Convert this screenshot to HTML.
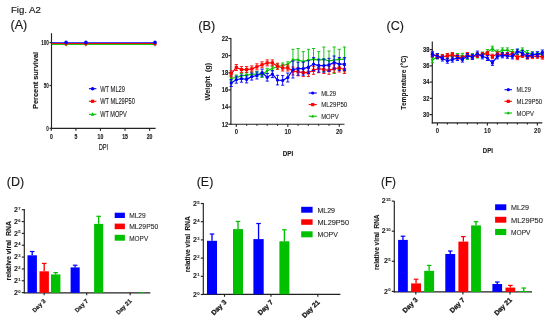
<!DOCTYPE html>
<html><head><meta charset="utf-8"><style>
html,body{margin:0;padding:0;background:#fff;width:550px;height:322px;overflow:hidden}
svg{display:block;filter:blur(0.25px)}
text{font-family:"Liberation Sans",sans-serif}
</style></head><body>
<svg width="550" height="322" viewBox="0 0 550 322">
<rect width="550" height="322" fill="#fff"/>
<text x="10.9" y="13.2" font-size="9.7" text-anchor="start" font-weight="normal" fill="#1a1a1a" font-family="Liberation Sans" stroke="#1a1a1a" stroke-width="0.18" textLength="30.0" lengthAdjust="spacingAndGlyphs" >Fig. A2</text>
<text x="10.5" y="28.8" font-size="12.4" text-anchor="start" font-weight="normal" fill="#1a1a1a" font-family="Liberation Sans" stroke="#1a1a1a" stroke-width="0.15" textLength="16.8" lengthAdjust="spacingAndGlyphs" >(A)</text>
<text x="198.2" y="30.0" font-size="12.3" text-anchor="start" font-weight="normal" fill="#1a1a1a" font-family="Liberation Sans" stroke="#1a1a1a" stroke-width="0.15" textLength="17.0" lengthAdjust="spacingAndGlyphs" >(B)</text>
<text x="386.6" y="29.8" font-size="12.3" text-anchor="start" font-weight="normal" fill="#1a1a1a" font-family="Liberation Sans" stroke="#1a1a1a" stroke-width="0.15" textLength="17.4" lengthAdjust="spacingAndGlyphs" >(C)</text>
<text x="6.8" y="185.6" font-size="12.3" text-anchor="start" font-weight="normal" fill="#1a1a1a" font-family="Liberation Sans" stroke="#1a1a1a" stroke-width="0.15" textLength="17.3" lengthAdjust="spacingAndGlyphs" >(D)</text>
<text x="196.7" y="185.6" font-size="12.3" text-anchor="start" font-weight="normal" fill="#1a1a1a" font-family="Liberation Sans" stroke="#1a1a1a" stroke-width="0.15" textLength="16.7" lengthAdjust="spacingAndGlyphs" >(E)</text>
<text x="381.0" y="186.3" font-size="12.3" text-anchor="start" font-weight="normal" fill="#1a1a1a" font-family="Liberation Sans" stroke="#1a1a1a" stroke-width="0.15" textLength="15.0" lengthAdjust="spacingAndGlyphs" >(F)</text>
<line x1="51.5" y1="33.2" x2="51.5" y2="128.8" stroke="#222222" stroke-width="1.15"/>
<line x1="51.0" y1="128.3" x2="155.6" y2="128.3" stroke="#222222" stroke-width="1.15"/>
<line x1="49.5" y1="128.3" x2="51.5" y2="128.3" stroke="#222222" stroke-width="1.15"/>
<text x="48.9" y="130.60000000000002" font-size="7.4" text-anchor="end" font-weight="bold" fill="#1a1a1a" font-family="Liberation Sans" stroke="#1a1a1a" stroke-width="0.12" textLength="2.55" lengthAdjust="spacingAndGlyphs" >0</text>
<line x1="49.5" y1="85.5" x2="51.5" y2="85.5" stroke="#222222" stroke-width="1.15"/>
<text x="48.9" y="87.8" font-size="7.4" text-anchor="end" font-weight="bold" fill="#1a1a1a" font-family="Liberation Sans" stroke="#1a1a1a" stroke-width="0.12" textLength="5.1" lengthAdjust="spacingAndGlyphs" >50</text>
<line x1="49.5" y1="42.6" x2="51.5" y2="42.6" stroke="#222222" stroke-width="1.15"/>
<text x="48.9" y="44.9" font-size="7.4" text-anchor="end" font-weight="bold" fill="#1a1a1a" font-family="Liberation Sans" stroke="#1a1a1a" stroke-width="0.12" textLength="7.6499999999999995" lengthAdjust="spacingAndGlyphs" >100</text>
<line x1="51.3" y1="128.3" x2="51.3" y2="130.8" stroke="#222222" stroke-width="1.15"/>
<text x="51.3" y="138.8" font-size="7.0" text-anchor="middle" font-weight="bold" fill="#1a1a1a" font-family="Liberation Sans" stroke="#1a1a1a" stroke-width="0.15" textLength="2.85" lengthAdjust="spacingAndGlyphs" >0</text>
<line x1="75.875" y1="128.3" x2="75.875" y2="130.8" stroke="#222222" stroke-width="1.15"/>
<text x="75.875" y="138.8" font-size="7.0" text-anchor="middle" font-weight="bold" fill="#1a1a1a" font-family="Liberation Sans" stroke="#1a1a1a" stroke-width="0.15" textLength="2.85" lengthAdjust="spacingAndGlyphs" >5</text>
<line x1="100.44999999999999" y1="128.3" x2="100.44999999999999" y2="130.8" stroke="#222222" stroke-width="1.15"/>
<text x="100.44999999999999" y="138.8" font-size="7.0" text-anchor="middle" font-weight="bold" fill="#1a1a1a" font-family="Liberation Sans" stroke="#1a1a1a" stroke-width="0.15" textLength="5.7" lengthAdjust="spacingAndGlyphs" >10</text>
<line x1="125.02499999999999" y1="128.3" x2="125.02499999999999" y2="130.8" stroke="#222222" stroke-width="1.15"/>
<text x="125.02499999999999" y="138.8" font-size="7.0" text-anchor="middle" font-weight="bold" fill="#1a1a1a" font-family="Liberation Sans" stroke="#1a1a1a" stroke-width="0.15" textLength="5.7" lengthAdjust="spacingAndGlyphs" >15</text>
<line x1="149.6" y1="128.3" x2="149.6" y2="130.8" stroke="#222222" stroke-width="1.15"/>
<text x="149.6" y="138.8" font-size="7.0" text-anchor="middle" font-weight="bold" fill="#1a1a1a" font-family="Liberation Sans" stroke="#1a1a1a" stroke-width="0.15" textLength="5.7" lengthAdjust="spacingAndGlyphs" >20</text>
<text x="103.4" y="149.9" font-size="8.6" text-anchor="middle" font-weight="normal" fill="#1a1a1a" font-family="Liberation Sans" stroke="#1a1a1a" stroke-width="0.15" textLength="9.5" lengthAdjust="spacingAndGlyphs" >DPI</text>
<text x="37.6" y="80.4" font-size="7.4" text-anchor="middle" font-weight="bold" fill="#1a1a1a" font-family="Liberation Sans" stroke="#1a1a1a" stroke-width="0.15" textLength="57" lengthAdjust="spacingAndGlyphs" transform="rotate(-90 37.6 80.4)" >Percent survival</text>
<line x1="51.5" y1="42.7" x2="155.6" y2="42.7" stroke="#0000ff" stroke-width="1.1"/>
<line x1="51.5" y1="43.5" x2="155.6" y2="43.5" stroke="#ff0000" stroke-width="1.1"/>
<line x1="51.5" y1="44.4" x2="155.6" y2="44.4" stroke="#00c000" stroke-width="1.0"/>
<polygon points="64.5,43.8 67.7,43.8 66.1,46.7" fill="#00c000"/>
<rect x="64.6" y="42.3" width="3.0" height="3.0" fill="#ff0000"/>
<circle cx="66.1" cy="42.4" r="1.8" fill="#0000ff"/>
<polygon points="84.3,43.8 87.5,43.8 85.9,46.7" fill="#00c000"/>
<rect x="84.4" y="42.3" width="3.0" height="3.0" fill="#ff0000"/>
<circle cx="85.9" cy="42.4" r="1.8" fill="#0000ff"/>
<polygon points="153.4,43.8 156.6,43.8 155.0,46.7" fill="#00c000"/>
<rect x="153.5" y="42.3" width="3.0" height="3.0" fill="#ff0000"/>
<circle cx="155.0" cy="42.4" r="1.8" fill="#0000ff"/>
<line x1="88.9" y1="88.7" x2="96.4" y2="88.7" stroke="#0000ff" stroke-width="1.1"/>
<circle cx="92.6" cy="88.7" r="1.8" fill="#0000ff"/>
<text x="100.2" y="91.7" font-size="9.2" text-anchor="start" font-weight="normal" fill="#1a1a1a" font-family="Liberation Sans" stroke="#1a1a1a" stroke-width="0.1" textLength="24.8" lengthAdjust="spacingAndGlyphs" >WT ML29</text>
<line x1="88.9" y1="101.3" x2="96.4" y2="101.3" stroke="#ff0000" stroke-width="1.1"/>
<rect x="91.0" y="99.7" width="3.2" height="3.2" fill="#ff0000"/>
<text x="100.2" y="104.3" font-size="9.2" text-anchor="start" font-weight="normal" fill="#1a1a1a" font-family="Liberation Sans" stroke="#1a1a1a" stroke-width="0.1" textLength="34.6" lengthAdjust="spacingAndGlyphs" >WT ML29P50</text>
<line x1="88.9" y1="114.3" x2="96.4" y2="114.3" stroke="#00c000" stroke-width="1.1"/>
<polygon points="90.8,115.7 94.4,115.7 92.6,112.3" fill="#00c000"/>
<text x="100.2" y="117.3" font-size="9.2" text-anchor="start" font-weight="normal" fill="#1a1a1a" font-family="Liberation Sans" stroke="#1a1a1a" stroke-width="0.1" textLength="26.6" lengthAdjust="spacingAndGlyphs" >WT MOPV</text>
<line x1="230.9" y1="38.0" x2="230.9" y2="124.7" stroke="#222222" stroke-width="1.15"/>
<line x1="230.4" y1="124.2" x2="344.5" y2="124.2" stroke="#222222" stroke-width="1.15"/>
<line x1="228.4" y1="124.2" x2="230.9" y2="124.2" stroke="#222222" stroke-width="1.15"/>
<text x="228.1" y="126.5" font-size="6.6" text-anchor="end" font-weight="bold" fill="#1a1a1a" font-family="Liberation Sans" stroke="#1a1a1a" stroke-width="0.12" textLength="6.4" lengthAdjust="spacingAndGlyphs" >12</text>
<line x1="228.4" y1="107.06" x2="230.9" y2="107.06" stroke="#222222" stroke-width="1.15"/>
<text x="228.1" y="109.36" font-size="6.6" text-anchor="end" font-weight="bold" fill="#1a1a1a" font-family="Liberation Sans" stroke="#1a1a1a" stroke-width="0.12" textLength="6.4" lengthAdjust="spacingAndGlyphs" >14</text>
<line x1="228.4" y1="89.92" x2="230.9" y2="89.92" stroke="#222222" stroke-width="1.15"/>
<text x="228.1" y="92.22" font-size="6.6" text-anchor="end" font-weight="bold" fill="#1a1a1a" font-family="Liberation Sans" stroke="#1a1a1a" stroke-width="0.12" textLength="6.4" lengthAdjust="spacingAndGlyphs" >16</text>
<line x1="228.4" y1="72.78" x2="230.9" y2="72.78" stroke="#222222" stroke-width="1.15"/>
<text x="228.1" y="75.08" font-size="6.6" text-anchor="end" font-weight="bold" fill="#1a1a1a" font-family="Liberation Sans" stroke="#1a1a1a" stroke-width="0.12" textLength="6.4" lengthAdjust="spacingAndGlyphs" >18</text>
<line x1="228.4" y1="55.64" x2="230.9" y2="55.64" stroke="#222222" stroke-width="1.15"/>
<text x="228.1" y="57.94" font-size="6.6" text-anchor="end" font-weight="bold" fill="#1a1a1a" font-family="Liberation Sans" stroke="#1a1a1a" stroke-width="0.12" textLength="6.4" lengthAdjust="spacingAndGlyphs" >20</text>
<line x1="228.4" y1="38.5" x2="230.9" y2="38.5" stroke="#222222" stroke-width="1.15"/>
<text x="228.1" y="40.8" font-size="6.6" text-anchor="end" font-weight="bold" fill="#1a1a1a" font-family="Liberation Sans" stroke="#1a1a1a" stroke-width="0.12" textLength="6.4" lengthAdjust="spacingAndGlyphs" >22</text>
<line x1="236.3" y1="124.2" x2="236.3" y2="126.7" stroke="#222222" stroke-width="1.15"/>
<line x1="246.60000000000002" y1="124.2" x2="246.60000000000002" y2="125.8" stroke="#222222" stroke-width="1.15"/>
<line x1="256.90000000000003" y1="124.2" x2="256.90000000000003" y2="125.8" stroke="#222222" stroke-width="1.15"/>
<line x1="267.2" y1="124.2" x2="267.2" y2="125.8" stroke="#222222" stroke-width="1.15"/>
<line x1="277.5" y1="124.2" x2="277.5" y2="125.8" stroke="#222222" stroke-width="1.15"/>
<line x1="287.8" y1="124.2" x2="287.8" y2="126.7" stroke="#222222" stroke-width="1.15"/>
<line x1="298.1" y1="124.2" x2="298.1" y2="125.8" stroke="#222222" stroke-width="1.15"/>
<line x1="308.40000000000003" y1="124.2" x2="308.40000000000003" y2="125.8" stroke="#222222" stroke-width="1.15"/>
<line x1="318.70000000000005" y1="124.2" x2="318.70000000000005" y2="125.8" stroke="#222222" stroke-width="1.15"/>
<line x1="329.0" y1="124.2" x2="329.0" y2="125.8" stroke="#222222" stroke-width="1.15"/>
<line x1="339.3" y1="124.2" x2="339.3" y2="126.7" stroke="#222222" stroke-width="1.15"/>
<text x="236.3" y="134.1" font-size="6.8" text-anchor="middle" font-weight="bold" fill="#1a1a1a" font-family="Liberation Sans" stroke="#1a1a1a" stroke-width="0.05" textLength="3.3" lengthAdjust="spacingAndGlyphs" >0</text>
<text x="287.8" y="134.1" font-size="6.8" text-anchor="middle" font-weight="bold" fill="#1a1a1a" font-family="Liberation Sans" stroke="#1a1a1a" stroke-width="0.05" textLength="6.6" lengthAdjust="spacingAndGlyphs" >10</text>
<text x="339.3" y="134.1" font-size="6.8" text-anchor="middle" font-weight="bold" fill="#1a1a1a" font-family="Liberation Sans" stroke="#1a1a1a" stroke-width="0.05" textLength="6.6" lengthAdjust="spacingAndGlyphs" >20</text>
<text x="288.0" y="156.3" font-size="7.8" text-anchor="middle" font-weight="bold" fill="#1a1a1a" font-family="Liberation Sans" stroke="#1a1a1a" stroke-width="0.12" textLength="10.5" lengthAdjust="spacingAndGlyphs" >DPI</text>
<text x="209.6" y="81.6" font-size="7.2" text-anchor="middle" font-weight="bold" fill="#1a1a1a" font-family="Liberation Sans" stroke="#1a1a1a" stroke-width="0.08" textLength="37.8" lengthAdjust="spacingAndGlyphs" transform="rotate(-90 209.6 81.6)" >Weight&#160; (g)</text>
<line x1="231.15" y1="75.9" x2="231.15" y2="80.9" stroke="#00c000" stroke-width="0.9"/>
<line x1="229.55" y1="75.9" x2="232.75" y2="75.9" stroke="#00c000" stroke-width="0.9"/>
<line x1="229.55" y1="80.9" x2="232.75" y2="80.9" stroke="#00c000" stroke-width="0.9"/>
<line x1="236.3" y1="75.0" x2="236.3" y2="80.0" stroke="#00c000" stroke-width="0.9"/>
<line x1="234.70000000000002" y1="75.0" x2="237.9" y2="75.0" stroke="#00c000" stroke-width="0.9"/>
<line x1="234.70000000000002" y1="80.0" x2="237.9" y2="80.0" stroke="#00c000" stroke-width="0.9"/>
<line x1="241.45000000000002" y1="73.4" x2="241.45000000000002" y2="78.4" stroke="#00c000" stroke-width="0.9"/>
<line x1="239.85000000000002" y1="73.4" x2="243.05" y2="73.4" stroke="#00c000" stroke-width="0.9"/>
<line x1="239.85000000000002" y1="78.4" x2="243.05" y2="78.4" stroke="#00c000" stroke-width="0.9"/>
<line x1="246.60000000000002" y1="72.7" x2="246.60000000000002" y2="77.7" stroke="#00c000" stroke-width="0.9"/>
<line x1="245.00000000000003" y1="72.7" x2="248.20000000000002" y2="72.7" stroke="#00c000" stroke-width="0.9"/>
<line x1="245.00000000000003" y1="77.7" x2="248.20000000000002" y2="77.7" stroke="#00c000" stroke-width="0.9"/>
<line x1="251.75" y1="72.0" x2="251.75" y2="77.0" stroke="#00c000" stroke-width="0.9"/>
<line x1="250.15" y1="72.0" x2="253.35" y2="72.0" stroke="#00c000" stroke-width="0.9"/>
<line x1="250.15" y1="77.0" x2="253.35" y2="77.0" stroke="#00c000" stroke-width="0.9"/>
<line x1="256.90000000000003" y1="71.3" x2="256.90000000000003" y2="76.3" stroke="#00c000" stroke-width="0.9"/>
<line x1="255.30000000000004" y1="71.3" x2="258.50000000000006" y2="71.3" stroke="#00c000" stroke-width="0.9"/>
<line x1="255.30000000000004" y1="76.3" x2="258.50000000000006" y2="76.3" stroke="#00c000" stroke-width="0.9"/>
<line x1="262.05" y1="72.5" x2="262.05" y2="77.5" stroke="#00c000" stroke-width="0.9"/>
<line x1="260.45" y1="72.5" x2="263.65000000000003" y2="72.5" stroke="#00c000" stroke-width="0.9"/>
<line x1="260.45" y1="77.5" x2="263.65000000000003" y2="77.5" stroke="#00c000" stroke-width="0.9"/>
<line x1="267.2" y1="68.3" x2="267.2" y2="73.3" stroke="#00c000" stroke-width="0.9"/>
<line x1="265.59999999999997" y1="68.3" x2="268.8" y2="68.3" stroke="#00c000" stroke-width="0.9"/>
<line x1="265.59999999999997" y1="73.3" x2="268.8" y2="73.3" stroke="#00c000" stroke-width="0.9"/>
<line x1="272.35" y1="66.0" x2="272.35" y2="71.0" stroke="#00c000" stroke-width="0.9"/>
<line x1="270.75" y1="66.0" x2="273.95000000000005" y2="66.0" stroke="#00c000" stroke-width="0.9"/>
<line x1="270.75" y1="71.0" x2="273.95000000000005" y2="71.0" stroke="#00c000" stroke-width="0.9"/>
<line x1="277.5" y1="64.0" x2="277.5" y2="69.0" stroke="#00c000" stroke-width="0.9"/>
<line x1="275.9" y1="64.0" x2="279.1" y2="64.0" stroke="#00c000" stroke-width="0.9"/>
<line x1="275.9" y1="69.0" x2="279.1" y2="69.0" stroke="#00c000" stroke-width="0.9"/>
<line x1="282.65000000000003" y1="63.0" x2="282.65000000000003" y2="68.0" stroke="#00c000" stroke-width="0.9"/>
<line x1="281.05" y1="63.0" x2="284.25000000000006" y2="63.0" stroke="#00c000" stroke-width="0.9"/>
<line x1="281.05" y1="68.0" x2="284.25000000000006" y2="68.0" stroke="#00c000" stroke-width="0.9"/>
<line x1="287.8" y1="61.8" x2="287.8" y2="66.8" stroke="#00c000" stroke-width="0.9"/>
<line x1="286.2" y1="61.8" x2="289.40000000000003" y2="61.8" stroke="#00c000" stroke-width="0.9"/>
<line x1="286.2" y1="66.8" x2="289.40000000000003" y2="66.8" stroke="#00c000" stroke-width="0.9"/>
<line x1="292.95000000000005" y1="49.3" x2="292.95000000000005" y2="70.5" stroke="#00c000" stroke-width="0.9"/>
<line x1="291.35" y1="49.3" x2="294.55000000000007" y2="49.3" stroke="#00c000" stroke-width="0.9"/>
<line x1="291.35" y1="70.5" x2="294.55000000000007" y2="70.5" stroke="#00c000" stroke-width="0.9"/>
<line x1="298.1" y1="48.5" x2="298.1" y2="71.3" stroke="#00c000" stroke-width="0.9"/>
<line x1="296.5" y1="48.5" x2="299.70000000000005" y2="48.5" stroke="#00c000" stroke-width="0.9"/>
<line x1="296.5" y1="71.3" x2="299.70000000000005" y2="71.3" stroke="#00c000" stroke-width="0.9"/>
<line x1="303.25" y1="51.6" x2="303.25" y2="71.80000000000001" stroke="#00c000" stroke-width="0.9"/>
<line x1="301.65" y1="51.6" x2="304.85" y2="51.6" stroke="#00c000" stroke-width="0.9"/>
<line x1="301.65" y1="71.80000000000001" x2="304.85" y2="71.80000000000001" stroke="#00c000" stroke-width="0.9"/>
<line x1="308.40000000000003" y1="49.3" x2="308.40000000000003" y2="71.10000000000001" stroke="#00c000" stroke-width="0.9"/>
<line x1="306.8" y1="49.3" x2="310.00000000000006" y2="49.3" stroke="#00c000" stroke-width="0.9"/>
<line x1="306.8" y1="71.10000000000001" x2="310.00000000000006" y2="71.10000000000001" stroke="#00c000" stroke-width="0.9"/>
<line x1="313.55" y1="48.5" x2="313.55" y2="70.3" stroke="#00c000" stroke-width="0.9"/>
<line x1="311.95" y1="48.5" x2="315.15000000000003" y2="48.5" stroke="#00c000" stroke-width="0.9"/>
<line x1="311.95" y1="70.3" x2="315.15000000000003" y2="70.3" stroke="#00c000" stroke-width="0.9"/>
<line x1="318.70000000000005" y1="51.6" x2="318.70000000000005" y2="68.80000000000001" stroke="#00c000" stroke-width="0.9"/>
<line x1="317.1" y1="51.6" x2="320.30000000000007" y2="51.6" stroke="#00c000" stroke-width="0.9"/>
<line x1="317.1" y1="68.80000000000001" x2="320.30000000000007" y2="68.80000000000001" stroke="#00c000" stroke-width="0.9"/>
<line x1="323.85" y1="47.0" x2="323.85" y2="71.8" stroke="#00c000" stroke-width="0.9"/>
<line x1="322.25" y1="47.0" x2="325.45000000000005" y2="47.0" stroke="#00c000" stroke-width="0.9"/>
<line x1="322.25" y1="71.8" x2="325.45000000000005" y2="71.8" stroke="#00c000" stroke-width="0.9"/>
<line x1="329.0" y1="51.0" x2="329.0" y2="71.0" stroke="#00c000" stroke-width="0.9"/>
<line x1="327.4" y1="51.0" x2="330.6" y2="51.0" stroke="#00c000" stroke-width="0.9"/>
<line x1="327.4" y1="71.0" x2="330.6" y2="71.0" stroke="#00c000" stroke-width="0.9"/>
<line x1="334.15000000000003" y1="47.0" x2="334.15000000000003" y2="73.4" stroke="#00c000" stroke-width="0.9"/>
<line x1="332.55" y1="47.0" x2="335.75000000000006" y2="47.0" stroke="#00c000" stroke-width="0.9"/>
<line x1="332.55" y1="73.4" x2="335.75000000000006" y2="73.4" stroke="#00c000" stroke-width="0.9"/>
<line x1="339.3" y1="49.3" x2="339.3" y2="69.5" stroke="#00c000" stroke-width="0.9"/>
<line x1="337.7" y1="49.3" x2="340.90000000000003" y2="49.3" stroke="#00c000" stroke-width="0.9"/>
<line x1="337.7" y1="69.5" x2="340.90000000000003" y2="69.5" stroke="#00c000" stroke-width="0.9"/>
<line x1="344.45000000000005" y1="47.0" x2="344.45000000000005" y2="71.8" stroke="#00c000" stroke-width="0.9"/>
<line x1="342.85" y1="47.0" x2="346.05000000000007" y2="47.0" stroke="#00c000" stroke-width="0.9"/>
<line x1="342.85" y1="71.8" x2="346.05000000000007" y2="71.8" stroke="#00c000" stroke-width="0.9"/>
<polyline points="231.2,78.4 236.3,77.5 241.5,75.9 246.6,75.2 251.8,74.5 256.9,73.8 262.1,75.0 267.2,70.8 272.4,68.5 277.5,66.5 282.7,65.5 287.8,64.3 293.0,59.9 298.1,59.9 303.2,61.7 308.4,60.2 313.6,59.4 318.7,60.2 323.9,59.4 329.0,61.0 334.2,60.2 339.3,59.4 344.5,59.4" fill="none" stroke="#00c000" stroke-width="1.2"/>
<polygon points="229.6,77.3 232.8,77.3 231.2,80.2" fill="#00c000"/>
<polygon points="234.7,76.4 237.9,76.4 236.3,79.3" fill="#00c000"/>
<polygon points="239.9,74.8 243.1,74.8 241.5,77.7" fill="#00c000"/>
<polygon points="245.0,74.1 248.2,74.1 246.6,77.0" fill="#00c000"/>
<polygon points="250.2,73.4 253.3,73.4 251.8,76.3" fill="#00c000"/>
<polygon points="255.3,72.7 258.5,72.7 256.9,75.6" fill="#00c000"/>
<polygon points="260.4,73.9 263.7,73.9 262.1,76.8" fill="#00c000"/>
<polygon points="265.6,69.7 268.8,69.7 267.2,72.6" fill="#00c000"/>
<polygon points="270.8,67.4 274.0,67.4 272.4,70.3" fill="#00c000"/>
<polygon points="275.9,65.4 279.1,65.4 277.5,68.3" fill="#00c000"/>
<polygon points="281.1,64.4 284.3,64.4 282.7,67.3" fill="#00c000"/>
<polygon points="286.2,63.2 289.4,63.2 287.8,66.1" fill="#00c000"/>
<polygon points="291.4,58.8 294.6,58.8 293.0,61.7" fill="#00c000"/>
<polygon points="296.5,58.8 299.7,58.8 298.1,61.7" fill="#00c000"/>
<polygon points="301.6,60.6 304.9,60.6 303.2,63.5" fill="#00c000"/>
<polygon points="306.8,59.1 310.0,59.1 308.4,62.0" fill="#00c000"/>
<polygon points="311.9,58.3 315.2,58.3 313.6,61.2" fill="#00c000"/>
<polygon points="317.1,59.1 320.3,59.1 318.7,62.0" fill="#00c000"/>
<polygon points="322.2,58.3 325.5,58.3 323.9,61.2" fill="#00c000"/>
<polygon points="327.4,59.9 330.6,59.9 329.0,62.8" fill="#00c000"/>
<polygon points="332.6,59.1 335.8,59.1 334.2,62.0" fill="#00c000"/>
<polygon points="337.7,58.3 340.9,58.3 339.3,61.2" fill="#00c000"/>
<polygon points="342.9,58.3 346.1,58.3 344.5,61.2" fill="#00c000"/>
<line x1="231.15" y1="70.8" x2="231.15" y2="76.8" stroke="#ff0000" stroke-width="0.9"/>
<line x1="229.55" y1="70.8" x2="232.75" y2="70.8" stroke="#ff0000" stroke-width="0.9"/>
<line x1="229.55" y1="76.8" x2="232.75" y2="76.8" stroke="#ff0000" stroke-width="0.9"/>
<line x1="236.3" y1="64.5" x2="236.3" y2="70.5" stroke="#ff0000" stroke-width="0.9"/>
<line x1="234.70000000000002" y1="64.5" x2="237.9" y2="64.5" stroke="#ff0000" stroke-width="0.9"/>
<line x1="234.70000000000002" y1="70.5" x2="237.9" y2="70.5" stroke="#ff0000" stroke-width="0.9"/>
<line x1="241.45000000000002" y1="66.6" x2="241.45000000000002" y2="72.6" stroke="#ff0000" stroke-width="0.9"/>
<line x1="239.85000000000002" y1="66.6" x2="243.05" y2="66.6" stroke="#ff0000" stroke-width="0.9"/>
<line x1="239.85000000000002" y1="72.6" x2="243.05" y2="72.6" stroke="#ff0000" stroke-width="0.9"/>
<line x1="246.60000000000002" y1="66.6" x2="246.60000000000002" y2="72.6" stroke="#ff0000" stroke-width="0.9"/>
<line x1="245.00000000000003" y1="66.6" x2="248.20000000000002" y2="66.6" stroke="#ff0000" stroke-width="0.9"/>
<line x1="245.00000000000003" y1="72.6" x2="248.20000000000002" y2="72.6" stroke="#ff0000" stroke-width="0.9"/>
<line x1="251.75" y1="65.9" x2="251.75" y2="71.9" stroke="#ff0000" stroke-width="0.9"/>
<line x1="250.15" y1="65.9" x2="253.35" y2="65.9" stroke="#ff0000" stroke-width="0.9"/>
<line x1="250.15" y1="71.9" x2="253.35" y2="71.9" stroke="#ff0000" stroke-width="0.9"/>
<line x1="256.90000000000003" y1="63.8" x2="256.90000000000003" y2="69.8" stroke="#ff0000" stroke-width="0.9"/>
<line x1="255.30000000000004" y1="63.8" x2="258.50000000000006" y2="63.8" stroke="#ff0000" stroke-width="0.9"/>
<line x1="255.30000000000004" y1="69.8" x2="258.50000000000006" y2="69.8" stroke="#ff0000" stroke-width="0.9"/>
<line x1="262.05" y1="61.8" x2="262.05" y2="67.8" stroke="#ff0000" stroke-width="0.9"/>
<line x1="260.45" y1="61.8" x2="263.65000000000003" y2="61.8" stroke="#ff0000" stroke-width="0.9"/>
<line x1="260.45" y1="67.8" x2="263.65000000000003" y2="67.8" stroke="#ff0000" stroke-width="0.9"/>
<line x1="267.2" y1="59.9" x2="267.2" y2="65.9" stroke="#ff0000" stroke-width="0.9"/>
<line x1="265.59999999999997" y1="59.9" x2="268.8" y2="59.9" stroke="#ff0000" stroke-width="0.9"/>
<line x1="265.59999999999997" y1="65.9" x2="268.8" y2="65.9" stroke="#ff0000" stroke-width="0.9"/>
<line x1="272.35" y1="59.9" x2="272.35" y2="65.9" stroke="#ff0000" stroke-width="0.9"/>
<line x1="270.75" y1="59.9" x2="273.95000000000005" y2="59.9" stroke="#ff0000" stroke-width="0.9"/>
<line x1="270.75" y1="65.9" x2="273.95000000000005" y2="65.9" stroke="#ff0000" stroke-width="0.9"/>
<line x1="277.5" y1="63.2" x2="277.5" y2="69.2" stroke="#ff0000" stroke-width="0.9"/>
<line x1="275.9" y1="63.2" x2="279.1" y2="63.2" stroke="#ff0000" stroke-width="0.9"/>
<line x1="275.9" y1="69.2" x2="279.1" y2="69.2" stroke="#ff0000" stroke-width="0.9"/>
<line x1="282.65000000000003" y1="65" x2="282.65000000000003" y2="71" stroke="#ff0000" stroke-width="0.9"/>
<line x1="281.05" y1="65" x2="284.25000000000006" y2="65" stroke="#ff0000" stroke-width="0.9"/>
<line x1="281.05" y1="71" x2="284.25000000000006" y2="71" stroke="#ff0000" stroke-width="0.9"/>
<line x1="287.8" y1="65" x2="287.8" y2="71" stroke="#ff0000" stroke-width="0.9"/>
<line x1="286.2" y1="65" x2="289.40000000000003" y2="65" stroke="#ff0000" stroke-width="0.9"/>
<line x1="286.2" y1="71" x2="289.40000000000003" y2="71" stroke="#ff0000" stroke-width="0.9"/>
<line x1="292.95000000000005" y1="67" x2="292.95000000000005" y2="75" stroke="#ff0000" stroke-width="0.9"/>
<line x1="291.35" y1="67" x2="294.55000000000007" y2="67" stroke="#ff0000" stroke-width="0.9"/>
<line x1="291.35" y1="75" x2="294.55000000000007" y2="75" stroke="#ff0000" stroke-width="0.9"/>
<line x1="298.1" y1="67.8" x2="298.1" y2="75.8" stroke="#ff0000" stroke-width="0.9"/>
<line x1="296.5" y1="67.8" x2="299.70000000000005" y2="67.8" stroke="#ff0000" stroke-width="0.9"/>
<line x1="296.5" y1="75.8" x2="299.70000000000005" y2="75.8" stroke="#ff0000" stroke-width="0.9"/>
<line x1="303.25" y1="68.6" x2="303.25" y2="76.6" stroke="#ff0000" stroke-width="0.9"/>
<line x1="301.65" y1="68.6" x2="304.85" y2="68.6" stroke="#ff0000" stroke-width="0.9"/>
<line x1="301.65" y1="76.6" x2="304.85" y2="76.6" stroke="#ff0000" stroke-width="0.9"/>
<line x1="308.40000000000003" y1="68.6" x2="308.40000000000003" y2="76.6" stroke="#ff0000" stroke-width="0.9"/>
<line x1="306.8" y1="68.6" x2="310.00000000000006" y2="68.6" stroke="#ff0000" stroke-width="0.9"/>
<line x1="306.8" y1="76.6" x2="310.00000000000006" y2="76.6" stroke="#ff0000" stroke-width="0.9"/>
<line x1="313.55" y1="66.3" x2="313.55" y2="74.3" stroke="#ff0000" stroke-width="0.9"/>
<line x1="311.95" y1="66.3" x2="315.15000000000003" y2="66.3" stroke="#ff0000" stroke-width="0.9"/>
<line x1="311.95" y1="74.3" x2="315.15000000000003" y2="74.3" stroke="#ff0000" stroke-width="0.9"/>
<line x1="318.70000000000005" y1="64.7" x2="318.70000000000005" y2="72.7" stroke="#ff0000" stroke-width="0.9"/>
<line x1="317.1" y1="64.7" x2="320.30000000000007" y2="64.7" stroke="#ff0000" stroke-width="0.9"/>
<line x1="317.1" y1="72.7" x2="320.30000000000007" y2="72.7" stroke="#ff0000" stroke-width="0.9"/>
<line x1="323.85" y1="65.5" x2="323.85" y2="73.5" stroke="#ff0000" stroke-width="0.9"/>
<line x1="322.25" y1="65.5" x2="325.45000000000005" y2="65.5" stroke="#ff0000" stroke-width="0.9"/>
<line x1="322.25" y1="73.5" x2="325.45000000000005" y2="73.5" stroke="#ff0000" stroke-width="0.9"/>
<line x1="329.0" y1="66.3" x2="329.0" y2="74.3" stroke="#ff0000" stroke-width="0.9"/>
<line x1="327.4" y1="66.3" x2="330.6" y2="66.3" stroke="#ff0000" stroke-width="0.9"/>
<line x1="327.4" y1="74.3" x2="330.6" y2="74.3" stroke="#ff0000" stroke-width="0.9"/>
<line x1="334.15000000000003" y1="64.7" x2="334.15000000000003" y2="72.7" stroke="#ff0000" stroke-width="0.9"/>
<line x1="332.55" y1="64.7" x2="335.75000000000006" y2="64.7" stroke="#ff0000" stroke-width="0.9"/>
<line x1="332.55" y1="72.7" x2="335.75000000000006" y2="72.7" stroke="#ff0000" stroke-width="0.9"/>
<line x1="339.3" y1="64" x2="339.3" y2="72" stroke="#ff0000" stroke-width="0.9"/>
<line x1="337.7" y1="64" x2="340.90000000000003" y2="64" stroke="#ff0000" stroke-width="0.9"/>
<line x1="337.7" y1="72" x2="340.90000000000003" y2="72" stroke="#ff0000" stroke-width="0.9"/>
<line x1="344.45000000000005" y1="65.5" x2="344.45000000000005" y2="73.5" stroke="#ff0000" stroke-width="0.9"/>
<line x1="342.85" y1="65.5" x2="346.05000000000007" y2="65.5" stroke="#ff0000" stroke-width="0.9"/>
<line x1="342.85" y1="73.5" x2="346.05000000000007" y2="73.5" stroke="#ff0000" stroke-width="0.9"/>
<polyline points="231.2,73.8 236.3,67.5 241.5,69.6 246.6,69.6 251.8,68.9 256.9,66.8 262.1,64.8 267.2,62.9 272.4,62.9 277.5,66.2 282.7,68.0 287.8,68.0 293.0,71.0 298.1,71.8 303.2,72.6 308.4,72.6 313.6,70.3 318.7,68.7 323.9,69.5 329.0,70.3 334.2,68.7 339.3,68.0 344.5,69.5" fill="none" stroke="#ff0000" stroke-width="1.2"/>
<rect x="229.6" y="72.2" width="3.2" height="3.2" fill="#ff0000"/>
<rect x="234.7" y="65.9" width="3.2" height="3.2" fill="#ff0000"/>
<rect x="239.9" y="68.0" width="3.2" height="3.2" fill="#ff0000"/>
<rect x="245.0" y="68.0" width="3.2" height="3.2" fill="#ff0000"/>
<rect x="250.2" y="67.3" width="3.2" height="3.2" fill="#ff0000"/>
<rect x="255.3" y="65.2" width="3.2" height="3.2" fill="#ff0000"/>
<rect x="260.4" y="63.2" width="3.2" height="3.2" fill="#ff0000"/>
<rect x="265.6" y="61.3" width="3.2" height="3.2" fill="#ff0000"/>
<rect x="270.8" y="61.3" width="3.2" height="3.2" fill="#ff0000"/>
<rect x="275.9" y="64.6" width="3.2" height="3.2" fill="#ff0000"/>
<rect x="281.1" y="66.4" width="3.2" height="3.2" fill="#ff0000"/>
<rect x="286.2" y="66.4" width="3.2" height="3.2" fill="#ff0000"/>
<rect x="291.4" y="69.4" width="3.2" height="3.2" fill="#ff0000"/>
<rect x="296.5" y="70.2" width="3.2" height="3.2" fill="#ff0000"/>
<rect x="301.6" y="71.0" width="3.2" height="3.2" fill="#ff0000"/>
<rect x="306.8" y="71.0" width="3.2" height="3.2" fill="#ff0000"/>
<rect x="311.9" y="68.7" width="3.2" height="3.2" fill="#ff0000"/>
<rect x="317.1" y="67.1" width="3.2" height="3.2" fill="#ff0000"/>
<rect x="322.2" y="67.9" width="3.2" height="3.2" fill="#ff0000"/>
<rect x="327.4" y="68.7" width="3.2" height="3.2" fill="#ff0000"/>
<rect x="332.6" y="67.1" width="3.2" height="3.2" fill="#ff0000"/>
<rect x="337.7" y="66.4" width="3.2" height="3.2" fill="#ff0000"/>
<rect x="342.9" y="67.9" width="3.2" height="3.2" fill="#ff0000"/>
<line x1="231.15" y1="79.5" x2="231.15" y2="86.5" stroke="#0000ff" stroke-width="0.9"/>
<line x1="229.55" y1="79.5" x2="232.75" y2="79.5" stroke="#0000ff" stroke-width="0.9"/>
<line x1="229.55" y1="86.5" x2="232.75" y2="86.5" stroke="#0000ff" stroke-width="0.9"/>
<line x1="236.3" y1="76.2" x2="236.3" y2="83.2" stroke="#0000ff" stroke-width="0.9"/>
<line x1="234.70000000000002" y1="76.2" x2="237.9" y2="76.2" stroke="#0000ff" stroke-width="0.9"/>
<line x1="234.70000000000002" y1="83.2" x2="237.9" y2="83.2" stroke="#0000ff" stroke-width="0.9"/>
<line x1="241.45000000000002" y1="75.2" x2="241.45000000000002" y2="82.2" stroke="#0000ff" stroke-width="0.9"/>
<line x1="239.85000000000002" y1="75.2" x2="243.05" y2="75.2" stroke="#0000ff" stroke-width="0.9"/>
<line x1="239.85000000000002" y1="82.2" x2="243.05" y2="82.2" stroke="#0000ff" stroke-width="0.9"/>
<line x1="246.60000000000002" y1="75.9" x2="246.60000000000002" y2="82.9" stroke="#0000ff" stroke-width="0.9"/>
<line x1="245.00000000000003" y1="75.9" x2="248.20000000000002" y2="75.9" stroke="#0000ff" stroke-width="0.9"/>
<line x1="245.00000000000003" y1="82.9" x2="248.20000000000002" y2="82.9" stroke="#0000ff" stroke-width="0.9"/>
<line x1="251.75" y1="73.1" x2="251.75" y2="80.1" stroke="#0000ff" stroke-width="0.9"/>
<line x1="250.15" y1="73.1" x2="253.35" y2="73.1" stroke="#0000ff" stroke-width="0.9"/>
<line x1="250.15" y1="80.1" x2="253.35" y2="80.1" stroke="#0000ff" stroke-width="0.9"/>
<line x1="256.90000000000003" y1="72.0" x2="256.90000000000003" y2="79.0" stroke="#0000ff" stroke-width="0.9"/>
<line x1="255.30000000000004" y1="72.0" x2="258.50000000000006" y2="72.0" stroke="#0000ff" stroke-width="0.9"/>
<line x1="255.30000000000004" y1="79.0" x2="258.50000000000006" y2="79.0" stroke="#0000ff" stroke-width="0.9"/>
<line x1="262.05" y1="69.2" x2="262.05" y2="76.2" stroke="#0000ff" stroke-width="0.9"/>
<line x1="260.45" y1="69.2" x2="263.65000000000003" y2="69.2" stroke="#0000ff" stroke-width="0.9"/>
<line x1="260.45" y1="76.2" x2="263.65000000000003" y2="76.2" stroke="#0000ff" stroke-width="0.9"/>
<line x1="267.2" y1="73.5" x2="267.2" y2="81.1" stroke="#0000ff" stroke-width="0.9"/>
<line x1="265.59999999999997" y1="73.5" x2="268.8" y2="73.5" stroke="#0000ff" stroke-width="0.9"/>
<line x1="265.59999999999997" y1="81.1" x2="268.8" y2="81.1" stroke="#0000ff" stroke-width="0.9"/>
<line x1="272.35" y1="70.6" x2="272.35" y2="77.6" stroke="#0000ff" stroke-width="0.9"/>
<line x1="270.75" y1="70.6" x2="273.95000000000005" y2="70.6" stroke="#0000ff" stroke-width="0.9"/>
<line x1="270.75" y1="77.6" x2="273.95000000000005" y2="77.6" stroke="#0000ff" stroke-width="0.9"/>
<line x1="277.5" y1="75.3" x2="277.5" y2="84.89999999999999" stroke="#0000ff" stroke-width="0.9"/>
<line x1="275.9" y1="75.3" x2="279.1" y2="75.3" stroke="#0000ff" stroke-width="0.9"/>
<line x1="275.9" y1="84.89999999999999" x2="279.1" y2="84.89999999999999" stroke="#0000ff" stroke-width="0.9"/>
<line x1="282.65000000000003" y1="75.60000000000001" x2="282.65000000000003" y2="85.2" stroke="#0000ff" stroke-width="0.9"/>
<line x1="281.05" y1="75.60000000000001" x2="284.25000000000006" y2="75.60000000000001" stroke="#0000ff" stroke-width="0.9"/>
<line x1="281.05" y1="85.2" x2="284.25000000000006" y2="85.2" stroke="#0000ff" stroke-width="0.9"/>
<line x1="287.8" y1="73.0" x2="287.8" y2="82.0" stroke="#0000ff" stroke-width="0.9"/>
<line x1="286.2" y1="73.0" x2="289.40000000000003" y2="73.0" stroke="#0000ff" stroke-width="0.9"/>
<line x1="286.2" y1="82.0" x2="289.40000000000003" y2="82.0" stroke="#0000ff" stroke-width="0.9"/>
<line x1="292.95000000000005" y1="61.0" x2="292.95000000000005" y2="78.0" stroke="#0000ff" stroke-width="0.9"/>
<line x1="291.35" y1="61.0" x2="294.55000000000007" y2="61.0" stroke="#0000ff" stroke-width="0.9"/>
<line x1="291.35" y1="78.0" x2="294.55000000000007" y2="78.0" stroke="#0000ff" stroke-width="0.9"/>
<line x1="298.1" y1="62.2" x2="298.1" y2="75.2" stroke="#0000ff" stroke-width="0.9"/>
<line x1="296.5" y1="62.2" x2="299.70000000000005" y2="62.2" stroke="#0000ff" stroke-width="0.9"/>
<line x1="296.5" y1="75.2" x2="299.70000000000005" y2="75.2" stroke="#0000ff" stroke-width="0.9"/>
<line x1="303.25" y1="62.2" x2="303.25" y2="75.2" stroke="#0000ff" stroke-width="0.9"/>
<line x1="301.65" y1="62.2" x2="304.85" y2="62.2" stroke="#0000ff" stroke-width="0.9"/>
<line x1="301.65" y1="75.2" x2="304.85" y2="75.2" stroke="#0000ff" stroke-width="0.9"/>
<line x1="308.40000000000003" y1="60.7" x2="308.40000000000003" y2="73.7" stroke="#0000ff" stroke-width="0.9"/>
<line x1="306.8" y1="60.7" x2="310.00000000000006" y2="60.7" stroke="#0000ff" stroke-width="0.9"/>
<line x1="306.8" y1="73.7" x2="310.00000000000006" y2="73.7" stroke="#0000ff" stroke-width="0.9"/>
<line x1="313.55" y1="57.599999999999994" x2="313.55" y2="70.6" stroke="#0000ff" stroke-width="0.9"/>
<line x1="311.95" y1="57.599999999999994" x2="315.15000000000003" y2="57.599999999999994" stroke="#0000ff" stroke-width="0.9"/>
<line x1="311.95" y1="70.6" x2="315.15000000000003" y2="70.6" stroke="#0000ff" stroke-width="0.9"/>
<line x1="318.70000000000005" y1="59.099999999999994" x2="318.70000000000005" y2="72.1" stroke="#0000ff" stroke-width="0.9"/>
<line x1="317.1" y1="59.099999999999994" x2="320.30000000000007" y2="59.099999999999994" stroke="#0000ff" stroke-width="0.9"/>
<line x1="317.1" y1="72.1" x2="320.30000000000007" y2="72.1" stroke="#0000ff" stroke-width="0.9"/>
<line x1="323.85" y1="59.099999999999994" x2="323.85" y2="72.1" stroke="#0000ff" stroke-width="0.9"/>
<line x1="322.25" y1="59.099999999999994" x2="325.45000000000005" y2="59.099999999999994" stroke="#0000ff" stroke-width="0.9"/>
<line x1="322.25" y1="72.1" x2="325.45000000000005" y2="72.1" stroke="#0000ff" stroke-width="0.9"/>
<line x1="329.0" y1="58.3" x2="329.0" y2="71.3" stroke="#0000ff" stroke-width="0.9"/>
<line x1="327.4" y1="58.3" x2="330.6" y2="58.3" stroke="#0000ff" stroke-width="0.9"/>
<line x1="327.4" y1="71.3" x2="330.6" y2="71.3" stroke="#0000ff" stroke-width="0.9"/>
<line x1="334.15000000000003" y1="56.0" x2="334.15000000000003" y2="69.0" stroke="#0000ff" stroke-width="0.9"/>
<line x1="332.55" y1="56.0" x2="335.75000000000006" y2="56.0" stroke="#0000ff" stroke-width="0.9"/>
<line x1="332.55" y1="69.0" x2="335.75000000000006" y2="69.0" stroke="#0000ff" stroke-width="0.9"/>
<line x1="339.3" y1="57.599999999999994" x2="339.3" y2="70.6" stroke="#0000ff" stroke-width="0.9"/>
<line x1="337.7" y1="57.599999999999994" x2="340.90000000000003" y2="57.599999999999994" stroke="#0000ff" stroke-width="0.9"/>
<line x1="337.7" y1="70.6" x2="340.90000000000003" y2="70.6" stroke="#0000ff" stroke-width="0.9"/>
<line x1="344.45000000000005" y1="57.599999999999994" x2="344.45000000000005" y2="70.6" stroke="#0000ff" stroke-width="0.9"/>
<line x1="342.85" y1="57.599999999999994" x2="346.05000000000007" y2="57.599999999999994" stroke="#0000ff" stroke-width="0.9"/>
<line x1="342.85" y1="70.6" x2="346.05000000000007" y2="70.6" stroke="#0000ff" stroke-width="0.9"/>
<polyline points="231.2,83.0 236.3,79.7 241.5,78.7 246.6,79.4 251.8,76.6 256.9,75.5 262.1,72.7 267.2,77.3 272.4,74.1 277.5,80.1 282.7,80.4 287.8,77.5 293.0,69.5 298.1,68.7 303.2,68.7 308.4,67.2 313.6,64.1 318.7,65.6 323.9,65.6 329.0,64.8 334.2,62.5 339.3,64.1 344.5,64.1" fill="none" stroke="#0000ff" stroke-width="1.2"/>
<circle cx="231.2" cy="83.0" r="1.6" fill="#0000ff"/>
<circle cx="236.3" cy="79.7" r="1.6" fill="#0000ff"/>
<circle cx="241.5" cy="78.7" r="1.6" fill="#0000ff"/>
<circle cx="246.6" cy="79.4" r="1.6" fill="#0000ff"/>
<circle cx="251.8" cy="76.6" r="1.6" fill="#0000ff"/>
<circle cx="256.9" cy="75.5" r="1.6" fill="#0000ff"/>
<circle cx="262.1" cy="72.7" r="1.6" fill="#0000ff"/>
<circle cx="267.2" cy="77.3" r="1.6" fill="#0000ff"/>
<circle cx="272.4" cy="74.1" r="1.6" fill="#0000ff"/>
<circle cx="277.5" cy="80.1" r="1.6" fill="#0000ff"/>
<circle cx="282.7" cy="80.4" r="1.6" fill="#0000ff"/>
<circle cx="287.8" cy="77.5" r="1.6" fill="#0000ff"/>
<circle cx="293.0" cy="69.5" r="1.6" fill="#0000ff"/>
<circle cx="298.1" cy="68.7" r="1.6" fill="#0000ff"/>
<circle cx="303.2" cy="68.7" r="1.6" fill="#0000ff"/>
<circle cx="308.4" cy="67.2" r="1.6" fill="#0000ff"/>
<circle cx="313.6" cy="64.1" r="1.6" fill="#0000ff"/>
<circle cx="318.7" cy="65.6" r="1.6" fill="#0000ff"/>
<circle cx="323.9" cy="65.6" r="1.6" fill="#0000ff"/>
<circle cx="329.0" cy="64.8" r="1.6" fill="#0000ff"/>
<circle cx="334.2" cy="62.5" r="1.6" fill="#0000ff"/>
<circle cx="339.3" cy="64.1" r="1.6" fill="#0000ff"/>
<circle cx="344.5" cy="64.1" r="1.6" fill="#0000ff"/>
<line x1="308.7" y1="93.0" x2="316.8" y2="93.0" stroke="#0000ff" stroke-width="1.1"/>
<circle cx="312.7" cy="93.0" r="1.6" fill="#0000ff"/>
<text x="321.2" y="95.7" font-size="7.7" text-anchor="start" font-weight="normal" fill="#1a1a1a" font-family="Liberation Sans" stroke="#1a1a1a" stroke-width="0.08" textLength="14.8" lengthAdjust="spacingAndGlyphs" >ML29</text>
<line x1="308.7" y1="104.6" x2="316.8" y2="104.6" stroke="#ff0000" stroke-width="1.1"/>
<rect x="311.1" y="103.0" width="3.2" height="3.2" fill="#ff0000"/>
<text x="321.2" y="107.3" font-size="7.7" text-anchor="start" font-weight="normal" fill="#1a1a1a" font-family="Liberation Sans" stroke="#1a1a1a" stroke-width="0.08" textLength="26" lengthAdjust="spacingAndGlyphs" >ML29P50</text>
<line x1="308.7" y1="116.2" x2="316.8" y2="116.2" stroke="#00c000" stroke-width="1.1"/>
<polygon points="311.1,117.5 314.3,117.5 312.7,114.4" fill="#00c000"/>
<text x="321.2" y="118.9" font-size="7.7" text-anchor="start" font-weight="normal" fill="#1a1a1a" font-family="Liberation Sans" stroke="#1a1a1a" stroke-width="0.08" textLength="17.4" lengthAdjust="spacingAndGlyphs" >MOPV</text>
<line x1="432.3" y1="41.5" x2="432.3" y2="123.4" stroke="#222222" stroke-width="1.15"/>
<line x1="431.8" y1="122.9" x2="542.3" y2="122.9" stroke="#222222" stroke-width="1.15"/>
<line x1="429.8" y1="114.6" x2="432.3" y2="114.6" stroke="#222222" stroke-width="1.15"/>
<text x="429.5" y="116.89999999999999" font-size="6.6" text-anchor="end" font-weight="bold" fill="#1a1a1a" font-family="Liberation Sans" stroke="#1a1a1a" stroke-width="0.12" textLength="6.4" lengthAdjust="spacingAndGlyphs" >30</text>
<line x1="429.8" y1="98.35" x2="432.3" y2="98.35" stroke="#222222" stroke-width="1.15"/>
<text x="429.5" y="100.64999999999999" font-size="6.6" text-anchor="end" font-weight="bold" fill="#1a1a1a" font-family="Liberation Sans" stroke="#1a1a1a" stroke-width="0.12" textLength="6.4" lengthAdjust="spacingAndGlyphs" >32</text>
<line x1="429.8" y1="82.1" x2="432.3" y2="82.1" stroke="#222222" stroke-width="1.15"/>
<text x="429.5" y="84.39999999999999" font-size="6.6" text-anchor="end" font-weight="bold" fill="#1a1a1a" font-family="Liberation Sans" stroke="#1a1a1a" stroke-width="0.12" textLength="6.4" lengthAdjust="spacingAndGlyphs" >34</text>
<line x1="429.8" y1="65.85" x2="432.3" y2="65.85" stroke="#222222" stroke-width="1.15"/>
<text x="429.5" y="68.14999999999999" font-size="6.6" text-anchor="end" font-weight="bold" fill="#1a1a1a" font-family="Liberation Sans" stroke="#1a1a1a" stroke-width="0.12" textLength="6.4" lengthAdjust="spacingAndGlyphs" >36</text>
<line x1="429.8" y1="49.599999999999994" x2="432.3" y2="49.599999999999994" stroke="#222222" stroke-width="1.15"/>
<text x="429.5" y="51.89999999999999" font-size="6.6" text-anchor="end" font-weight="bold" fill="#1a1a1a" font-family="Liberation Sans" stroke="#1a1a1a" stroke-width="0.12" textLength="6.4" lengthAdjust="spacingAndGlyphs" >38</text>
<line x1="437.4" y1="122.9" x2="437.4" y2="125.4" stroke="#222222" stroke-width="1.15"/>
<line x1="447.4" y1="122.9" x2="447.4" y2="124.5" stroke="#222222" stroke-width="1.15"/>
<line x1="457.4" y1="122.9" x2="457.4" y2="124.5" stroke="#222222" stroke-width="1.15"/>
<line x1="467.4" y1="122.9" x2="467.4" y2="124.5" stroke="#222222" stroke-width="1.15"/>
<line x1="477.4" y1="122.9" x2="477.4" y2="124.5" stroke="#222222" stroke-width="1.15"/>
<line x1="487.4" y1="122.9" x2="487.4" y2="125.4" stroke="#222222" stroke-width="1.15"/>
<line x1="497.4" y1="122.9" x2="497.4" y2="124.5" stroke="#222222" stroke-width="1.15"/>
<line x1="507.4" y1="122.9" x2="507.4" y2="124.5" stroke="#222222" stroke-width="1.15"/>
<line x1="517.4" y1="122.9" x2="517.4" y2="124.5" stroke="#222222" stroke-width="1.15"/>
<line x1="527.4" y1="122.9" x2="527.4" y2="124.5" stroke="#222222" stroke-width="1.15"/>
<line x1="537.4" y1="122.9" x2="537.4" y2="125.4" stroke="#222222" stroke-width="1.15"/>
<text x="437.4" y="132.8" font-size="6.8" text-anchor="middle" font-weight="bold" fill="#1a1a1a" font-family="Liberation Sans" stroke="#1a1a1a" stroke-width="0.05" textLength="3.3" lengthAdjust="spacingAndGlyphs" >0</text>
<text x="487.4" y="132.8" font-size="6.8" text-anchor="middle" font-weight="bold" fill="#1a1a1a" font-family="Liberation Sans" stroke="#1a1a1a" stroke-width="0.05" textLength="6.6" lengthAdjust="spacingAndGlyphs" >10</text>
<text x="537.4" y="132.8" font-size="6.8" text-anchor="middle" font-weight="bold" fill="#1a1a1a" font-family="Liberation Sans" stroke="#1a1a1a" stroke-width="0.05" textLength="6.6" lengthAdjust="spacingAndGlyphs" >20</text>
<text x="487.9" y="153.3" font-size="7.8" text-anchor="middle" font-weight="bold" fill="#1a1a1a" font-family="Liberation Sans" stroke="#1a1a1a" stroke-width="0.12" textLength="10.1" lengthAdjust="spacingAndGlyphs" >DPI</text>
<text x="405.6" y="82.7" font-size="6.9" text-anchor="middle" font-weight="bold" fill="#1a1a1a" font-family="Liberation Sans" stroke="#1a1a1a" stroke-width="0.08" textLength="54" lengthAdjust="spacingAndGlyphs" transform="rotate(-90 405.6 82.7)" >Temperature (°C)</text>
<line x1="432.4" y1="57.7" x2="432.4" y2="62.7" stroke="#00c000" stroke-width="0.9"/>
<line x1="430.79999999999995" y1="57.7" x2="434.0" y2="57.7" stroke="#00c000" stroke-width="0.9"/>
<line x1="430.79999999999995" y1="62.7" x2="434.0" y2="62.7" stroke="#00c000" stroke-width="0.9"/>
<line x1="437.4" y1="53.9" x2="437.4" y2="58.9" stroke="#00c000" stroke-width="0.9"/>
<line x1="435.79999999999995" y1="53.9" x2="439.0" y2="53.9" stroke="#00c000" stroke-width="0.9"/>
<line x1="435.79999999999995" y1="58.9" x2="439.0" y2="58.9" stroke="#00c000" stroke-width="0.9"/>
<line x1="442.4" y1="54.4" x2="442.4" y2="59.4" stroke="#00c000" stroke-width="0.9"/>
<line x1="440.79999999999995" y1="54.4" x2="444.0" y2="54.4" stroke="#00c000" stroke-width="0.9"/>
<line x1="440.79999999999995" y1="59.4" x2="444.0" y2="59.4" stroke="#00c000" stroke-width="0.9"/>
<line x1="447.4" y1="53.5" x2="447.4" y2="58.5" stroke="#00c000" stroke-width="0.9"/>
<line x1="445.79999999999995" y1="53.5" x2="449.0" y2="53.5" stroke="#00c000" stroke-width="0.9"/>
<line x1="445.79999999999995" y1="58.5" x2="449.0" y2="58.5" stroke="#00c000" stroke-width="0.9"/>
<line x1="452.4" y1="53.5" x2="452.4" y2="58.5" stroke="#00c000" stroke-width="0.9"/>
<line x1="450.79999999999995" y1="53.5" x2="454.0" y2="53.5" stroke="#00c000" stroke-width="0.9"/>
<line x1="450.79999999999995" y1="58.5" x2="454.0" y2="58.5" stroke="#00c000" stroke-width="0.9"/>
<line x1="457.4" y1="53.5" x2="457.4" y2="58.5" stroke="#00c000" stroke-width="0.9"/>
<line x1="455.79999999999995" y1="53.5" x2="459.0" y2="53.5" stroke="#00c000" stroke-width="0.9"/>
<line x1="455.79999999999995" y1="58.5" x2="459.0" y2="58.5" stroke="#00c000" stroke-width="0.9"/>
<line x1="462.4" y1="53.3" x2="462.4" y2="58.3" stroke="#00c000" stroke-width="0.9"/>
<line x1="460.79999999999995" y1="53.3" x2="464.0" y2="53.3" stroke="#00c000" stroke-width="0.9"/>
<line x1="460.79999999999995" y1="58.3" x2="464.0" y2="58.3" stroke="#00c000" stroke-width="0.9"/>
<line x1="467.4" y1="54.4" x2="467.4" y2="59.4" stroke="#00c000" stroke-width="0.9"/>
<line x1="465.79999999999995" y1="54.4" x2="469.0" y2="54.4" stroke="#00c000" stroke-width="0.9"/>
<line x1="465.79999999999995" y1="59.4" x2="469.0" y2="59.4" stroke="#00c000" stroke-width="0.9"/>
<line x1="472.4" y1="53.5" x2="472.4" y2="58.5" stroke="#00c000" stroke-width="0.9"/>
<line x1="470.79999999999995" y1="53.5" x2="474.0" y2="53.5" stroke="#00c000" stroke-width="0.9"/>
<line x1="470.79999999999995" y1="58.5" x2="474.0" y2="58.5" stroke="#00c000" stroke-width="0.9"/>
<line x1="477.4" y1="53.0" x2="477.4" y2="58.0" stroke="#00c000" stroke-width="0.9"/>
<line x1="475.79999999999995" y1="53.0" x2="479.0" y2="53.0" stroke="#00c000" stroke-width="0.9"/>
<line x1="475.79999999999995" y1="58.0" x2="479.0" y2="58.0" stroke="#00c000" stroke-width="0.9"/>
<line x1="482.4" y1="52.0" x2="482.4" y2="57.0" stroke="#00c000" stroke-width="0.9"/>
<line x1="480.79999999999995" y1="52.0" x2="484.0" y2="52.0" stroke="#00c000" stroke-width="0.9"/>
<line x1="480.79999999999995" y1="57.0" x2="484.0" y2="57.0" stroke="#00c000" stroke-width="0.9"/>
<line x1="487.4" y1="49.5" x2="487.4" y2="54.5" stroke="#00c000" stroke-width="0.9"/>
<line x1="485.79999999999995" y1="49.5" x2="489.0" y2="49.5" stroke="#00c000" stroke-width="0.9"/>
<line x1="485.79999999999995" y1="54.5" x2="489.0" y2="54.5" stroke="#00c000" stroke-width="0.9"/>
<line x1="492.4" y1="46.2" x2="492.4" y2="51.2" stroke="#00c000" stroke-width="0.9"/>
<line x1="490.79999999999995" y1="46.2" x2="494.0" y2="46.2" stroke="#00c000" stroke-width="0.9"/>
<line x1="490.79999999999995" y1="51.2" x2="494.0" y2="51.2" stroke="#00c000" stroke-width="0.9"/>
<line x1="497.4" y1="50.0" x2="497.4" y2="55.0" stroke="#00c000" stroke-width="0.9"/>
<line x1="495.79999999999995" y1="50.0" x2="499.0" y2="50.0" stroke="#00c000" stroke-width="0.9"/>
<line x1="495.79999999999995" y1="55.0" x2="499.0" y2="55.0" stroke="#00c000" stroke-width="0.9"/>
<line x1="502.4" y1="47.9" x2="502.4" y2="52.9" stroke="#00c000" stroke-width="0.9"/>
<line x1="500.79999999999995" y1="47.9" x2="504.0" y2="47.9" stroke="#00c000" stroke-width="0.9"/>
<line x1="500.79999999999995" y1="52.9" x2="504.0" y2="52.9" stroke="#00c000" stroke-width="0.9"/>
<line x1="507.4" y1="47.9" x2="507.4" y2="52.9" stroke="#00c000" stroke-width="0.9"/>
<line x1="505.79999999999995" y1="47.9" x2="509.0" y2="47.9" stroke="#00c000" stroke-width="0.9"/>
<line x1="505.79999999999995" y1="52.9" x2="509.0" y2="52.9" stroke="#00c000" stroke-width="0.9"/>
<line x1="512.4" y1="49.5" x2="512.4" y2="54.5" stroke="#00c000" stroke-width="0.9"/>
<line x1="510.79999999999995" y1="49.5" x2="514.0" y2="49.5" stroke="#00c000" stroke-width="0.9"/>
<line x1="510.79999999999995" y1="54.5" x2="514.0" y2="54.5" stroke="#00c000" stroke-width="0.9"/>
<line x1="517.4" y1="49.5" x2="517.4" y2="54.5" stroke="#00c000" stroke-width="0.9"/>
<line x1="515.8" y1="49.5" x2="519.0" y2="49.5" stroke="#00c000" stroke-width="0.9"/>
<line x1="515.8" y1="54.5" x2="519.0" y2="54.5" stroke="#00c000" stroke-width="0.9"/>
<line x1="522.4" y1="47.9" x2="522.4" y2="52.9" stroke="#00c000" stroke-width="0.9"/>
<line x1="520.8" y1="47.9" x2="524.0" y2="47.9" stroke="#00c000" stroke-width="0.9"/>
<line x1="520.8" y1="52.9" x2="524.0" y2="52.9" stroke="#00c000" stroke-width="0.9"/>
<line x1="527.4" y1="50.6" x2="527.4" y2="55.6" stroke="#00c000" stroke-width="0.9"/>
<line x1="525.8" y1="50.6" x2="529.0" y2="50.6" stroke="#00c000" stroke-width="0.9"/>
<line x1="525.8" y1="55.6" x2="529.0" y2="55.6" stroke="#00c000" stroke-width="0.9"/>
<line x1="532.4" y1="51.7" x2="532.4" y2="56.7" stroke="#00c000" stroke-width="0.9"/>
<line x1="530.8" y1="51.7" x2="534.0" y2="51.7" stroke="#00c000" stroke-width="0.9"/>
<line x1="530.8" y1="56.7" x2="534.0" y2="56.7" stroke="#00c000" stroke-width="0.9"/>
<line x1="537.4" y1="52.2" x2="537.4" y2="57.2" stroke="#00c000" stroke-width="0.9"/>
<line x1="535.8" y1="52.2" x2="539.0" y2="52.2" stroke="#00c000" stroke-width="0.9"/>
<line x1="535.8" y1="57.2" x2="539.0" y2="57.2" stroke="#00c000" stroke-width="0.9"/>
<line x1="542.4" y1="51.7" x2="542.4" y2="56.7" stroke="#00c000" stroke-width="0.9"/>
<line x1="540.8" y1="51.7" x2="544.0" y2="51.7" stroke="#00c000" stroke-width="0.9"/>
<line x1="540.8" y1="56.7" x2="544.0" y2="56.7" stroke="#00c000" stroke-width="0.9"/>
<polyline points="432.4,60.2 437.4,56.4 442.4,56.9 447.4,56.0 452.4,56.0 457.4,56.0 462.4,55.8 467.4,56.9 472.4,56.0 477.4,55.5 482.4,54.5 487.4,52.0 492.4,48.7 497.4,52.5 502.4,50.4 507.4,50.4 512.4,52.0 517.4,52.0 522.4,50.4 527.4,53.1 532.4,54.2 537.4,54.7 542.4,54.2" fill="none" stroke="#00c000" stroke-width="1.2"/>
<polygon points="430.8,59.1 434.0,59.1 432.4,62.0" fill="#00c000"/>
<polygon points="435.8,55.3 439.0,55.3 437.4,58.2" fill="#00c000"/>
<polygon points="440.8,55.8 444.0,55.8 442.4,58.7" fill="#00c000"/>
<polygon points="445.8,54.9 449.0,54.9 447.4,57.8" fill="#00c000"/>
<polygon points="450.8,54.9 454.0,54.9 452.4,57.8" fill="#00c000"/>
<polygon points="455.8,54.9 459.0,54.9 457.4,57.8" fill="#00c000"/>
<polygon points="460.8,54.7 464.0,54.7 462.4,57.6" fill="#00c000"/>
<polygon points="465.8,55.8 469.0,55.8 467.4,58.7" fill="#00c000"/>
<polygon points="470.8,54.9 474.0,54.9 472.4,57.8" fill="#00c000"/>
<polygon points="475.8,54.4 479.0,54.4 477.4,57.3" fill="#00c000"/>
<polygon points="480.8,53.4 484.0,53.4 482.4,56.3" fill="#00c000"/>
<polygon points="485.8,50.9 489.0,50.9 487.4,53.8" fill="#00c000"/>
<polygon points="490.8,47.6 494.0,47.6 492.4,50.5" fill="#00c000"/>
<polygon points="495.8,51.4 499.0,51.4 497.4,54.3" fill="#00c000"/>
<polygon points="500.8,49.3 504.0,49.3 502.4,52.2" fill="#00c000"/>
<polygon points="505.8,49.3 509.0,49.3 507.4,52.2" fill="#00c000"/>
<polygon points="510.8,50.9 514.0,50.9 512.4,53.8" fill="#00c000"/>
<polygon points="515.8,50.9 519.0,50.9 517.4,53.8" fill="#00c000"/>
<polygon points="520.8,49.3 524.0,49.3 522.4,52.2" fill="#00c000"/>
<polygon points="525.8,52.0 529.0,52.0 527.4,54.9" fill="#00c000"/>
<polygon points="530.8,53.1 534.0,53.1 532.4,56.0" fill="#00c000"/>
<polygon points="535.8,53.6 539.0,53.6 537.4,56.5" fill="#00c000"/>
<polygon points="540.8,53.1 544.0,53.1 542.4,56.0" fill="#00c000"/>
<line x1="432.4" y1="52.5" x2="432.4" y2="56.900000000000006" stroke="#ff0000" stroke-width="0.9"/>
<line x1="430.79999999999995" y1="52.5" x2="434.0" y2="52.5" stroke="#ff0000" stroke-width="0.9"/>
<line x1="430.79999999999995" y1="56.900000000000006" x2="434.0" y2="56.900000000000006" stroke="#ff0000" stroke-width="0.9"/>
<line x1="437.4" y1="54.199999999999996" x2="437.4" y2="58.6" stroke="#ff0000" stroke-width="0.9"/>
<line x1="435.79999999999995" y1="54.199999999999996" x2="439.0" y2="54.199999999999996" stroke="#ff0000" stroke-width="0.9"/>
<line x1="435.79999999999995" y1="58.6" x2="439.0" y2="58.6" stroke="#ff0000" stroke-width="0.9"/>
<line x1="442.4" y1="54.699999999999996" x2="442.4" y2="59.1" stroke="#ff0000" stroke-width="0.9"/>
<line x1="440.79999999999995" y1="54.699999999999996" x2="444.0" y2="54.699999999999996" stroke="#ff0000" stroke-width="0.9"/>
<line x1="440.79999999999995" y1="59.1" x2="444.0" y2="59.1" stroke="#ff0000" stroke-width="0.9"/>
<line x1="447.4" y1="53.599999999999994" x2="447.4" y2="58.0" stroke="#ff0000" stroke-width="0.9"/>
<line x1="445.79999999999995" y1="53.599999999999994" x2="449.0" y2="53.599999999999994" stroke="#ff0000" stroke-width="0.9"/>
<line x1="445.79999999999995" y1="58.0" x2="449.0" y2="58.0" stroke="#ff0000" stroke-width="0.9"/>
<line x1="452.4" y1="52.5" x2="452.4" y2="56.900000000000006" stroke="#ff0000" stroke-width="0.9"/>
<line x1="450.79999999999995" y1="52.5" x2="454.0" y2="52.5" stroke="#ff0000" stroke-width="0.9"/>
<line x1="450.79999999999995" y1="56.900000000000006" x2="454.0" y2="56.900000000000006" stroke="#ff0000" stroke-width="0.9"/>
<line x1="457.4" y1="54.699999999999996" x2="457.4" y2="59.1" stroke="#ff0000" stroke-width="0.9"/>
<line x1="455.79999999999995" y1="54.699999999999996" x2="459.0" y2="54.699999999999996" stroke="#ff0000" stroke-width="0.9"/>
<line x1="455.79999999999995" y1="59.1" x2="459.0" y2="59.1" stroke="#ff0000" stroke-width="0.9"/>
<line x1="462.4" y1="55.8" x2="462.4" y2="60.2" stroke="#ff0000" stroke-width="0.9"/>
<line x1="460.79999999999995" y1="55.8" x2="464.0" y2="55.8" stroke="#ff0000" stroke-width="0.9"/>
<line x1="460.79999999999995" y1="60.2" x2="464.0" y2="60.2" stroke="#ff0000" stroke-width="0.9"/>
<line x1="467.4" y1="52.5" x2="467.4" y2="56.900000000000006" stroke="#ff0000" stroke-width="0.9"/>
<line x1="465.79999999999995" y1="52.5" x2="469.0" y2="52.5" stroke="#ff0000" stroke-width="0.9"/>
<line x1="465.79999999999995" y1="56.900000000000006" x2="469.0" y2="56.900000000000006" stroke="#ff0000" stroke-width="0.9"/>
<line x1="472.4" y1="54.699999999999996" x2="472.4" y2="59.1" stroke="#ff0000" stroke-width="0.9"/>
<line x1="470.79999999999995" y1="54.699999999999996" x2="474.0" y2="54.699999999999996" stroke="#ff0000" stroke-width="0.9"/>
<line x1="470.79999999999995" y1="59.1" x2="474.0" y2="59.1" stroke="#ff0000" stroke-width="0.9"/>
<line x1="477.4" y1="53.099999999999994" x2="477.4" y2="57.5" stroke="#ff0000" stroke-width="0.9"/>
<line x1="475.79999999999995" y1="53.099999999999994" x2="479.0" y2="53.099999999999994" stroke="#ff0000" stroke-width="0.9"/>
<line x1="475.79999999999995" y1="57.5" x2="479.0" y2="57.5" stroke="#ff0000" stroke-width="0.9"/>
<line x1="482.4" y1="52.5" x2="482.4" y2="56.900000000000006" stroke="#ff0000" stroke-width="0.9"/>
<line x1="480.79999999999995" y1="52.5" x2="484.0" y2="52.5" stroke="#ff0000" stroke-width="0.9"/>
<line x1="480.79999999999995" y1="56.900000000000006" x2="484.0" y2="56.900000000000006" stroke="#ff0000" stroke-width="0.9"/>
<line x1="487.4" y1="51.4" x2="487.4" y2="55.800000000000004" stroke="#ff0000" stroke-width="0.9"/>
<line x1="485.79999999999995" y1="51.4" x2="489.0" y2="51.4" stroke="#ff0000" stroke-width="0.9"/>
<line x1="485.79999999999995" y1="55.800000000000004" x2="489.0" y2="55.800000000000004" stroke="#ff0000" stroke-width="0.9"/>
<line x1="492.4" y1="54.199999999999996" x2="492.4" y2="58.6" stroke="#ff0000" stroke-width="0.9"/>
<line x1="490.79999999999995" y1="54.199999999999996" x2="494.0" y2="54.199999999999996" stroke="#ff0000" stroke-width="0.9"/>
<line x1="490.79999999999995" y1="58.6" x2="494.0" y2="58.6" stroke="#ff0000" stroke-width="0.9"/>
<line x1="497.4" y1="52.0" x2="497.4" y2="56.400000000000006" stroke="#ff0000" stroke-width="0.9"/>
<line x1="495.79999999999995" y1="52.0" x2="499.0" y2="52.0" stroke="#ff0000" stroke-width="0.9"/>
<line x1="495.79999999999995" y1="56.400000000000006" x2="499.0" y2="56.400000000000006" stroke="#ff0000" stroke-width="0.9"/>
<line x1="502.4" y1="52.5" x2="502.4" y2="56.900000000000006" stroke="#ff0000" stroke-width="0.9"/>
<line x1="500.79999999999995" y1="52.5" x2="504.0" y2="52.5" stroke="#ff0000" stroke-width="0.9"/>
<line x1="500.79999999999995" y1="56.900000000000006" x2="504.0" y2="56.900000000000006" stroke="#ff0000" stroke-width="0.9"/>
<line x1="507.4" y1="52.5" x2="507.4" y2="56.900000000000006" stroke="#ff0000" stroke-width="0.9"/>
<line x1="505.79999999999995" y1="52.5" x2="509.0" y2="52.5" stroke="#ff0000" stroke-width="0.9"/>
<line x1="505.79999999999995" y1="56.900000000000006" x2="509.0" y2="56.900000000000006" stroke="#ff0000" stroke-width="0.9"/>
<line x1="512.4" y1="52.0" x2="512.4" y2="56.400000000000006" stroke="#ff0000" stroke-width="0.9"/>
<line x1="510.79999999999995" y1="52.0" x2="514.0" y2="52.0" stroke="#ff0000" stroke-width="0.9"/>
<line x1="510.79999999999995" y1="56.400000000000006" x2="514.0" y2="56.400000000000006" stroke="#ff0000" stroke-width="0.9"/>
<line x1="517.4" y1="55.3" x2="517.4" y2="59.7" stroke="#ff0000" stroke-width="0.9"/>
<line x1="515.8" y1="55.3" x2="519.0" y2="55.3" stroke="#ff0000" stroke-width="0.9"/>
<line x1="515.8" y1="59.7" x2="519.0" y2="59.7" stroke="#ff0000" stroke-width="0.9"/>
<line x1="522.4" y1="53.099999999999994" x2="522.4" y2="57.5" stroke="#ff0000" stroke-width="0.9"/>
<line x1="520.8" y1="53.099999999999994" x2="524.0" y2="53.099999999999994" stroke="#ff0000" stroke-width="0.9"/>
<line x1="520.8" y1="57.5" x2="524.0" y2="57.5" stroke="#ff0000" stroke-width="0.9"/>
<line x1="527.4" y1="54.699999999999996" x2="527.4" y2="59.1" stroke="#ff0000" stroke-width="0.9"/>
<line x1="525.8" y1="54.699999999999996" x2="529.0" y2="54.699999999999996" stroke="#ff0000" stroke-width="0.9"/>
<line x1="525.8" y1="59.1" x2="529.0" y2="59.1" stroke="#ff0000" stroke-width="0.9"/>
<line x1="532.4" y1="54.199999999999996" x2="532.4" y2="58.6" stroke="#ff0000" stroke-width="0.9"/>
<line x1="530.8" y1="54.199999999999996" x2="534.0" y2="54.199999999999996" stroke="#ff0000" stroke-width="0.9"/>
<line x1="530.8" y1="58.6" x2="534.0" y2="58.6" stroke="#ff0000" stroke-width="0.9"/>
<line x1="537.4" y1="53.9" x2="537.4" y2="58.300000000000004" stroke="#ff0000" stroke-width="0.9"/>
<line x1="535.8" y1="53.9" x2="539.0" y2="53.9" stroke="#ff0000" stroke-width="0.9"/>
<line x1="535.8" y1="58.300000000000004" x2="539.0" y2="58.300000000000004" stroke="#ff0000" stroke-width="0.9"/>
<line x1="542.4" y1="54.699999999999996" x2="542.4" y2="59.1" stroke="#ff0000" stroke-width="0.9"/>
<line x1="540.8" y1="54.699999999999996" x2="544.0" y2="54.699999999999996" stroke="#ff0000" stroke-width="0.9"/>
<line x1="540.8" y1="59.1" x2="544.0" y2="59.1" stroke="#ff0000" stroke-width="0.9"/>
<polyline points="432.4,54.7 437.4,56.4 442.4,56.9 447.4,55.8 452.4,54.7 457.4,56.9 462.4,58.0 467.4,54.7 472.4,56.9 477.4,55.3 482.4,54.7 487.4,53.6 492.4,56.4 497.4,54.2 502.4,54.7 507.4,54.7 512.4,54.2 517.4,57.5 522.4,55.3 527.4,56.9 532.4,56.4 537.4,56.1 542.4,56.9" fill="none" stroke="#ff0000" stroke-width="1.2"/>
<rect x="430.8" y="53.1" width="3.2" height="3.2" fill="#ff0000"/>
<rect x="435.8" y="54.8" width="3.2" height="3.2" fill="#ff0000"/>
<rect x="440.8" y="55.3" width="3.2" height="3.2" fill="#ff0000"/>
<rect x="445.8" y="54.2" width="3.2" height="3.2" fill="#ff0000"/>
<rect x="450.8" y="53.1" width="3.2" height="3.2" fill="#ff0000"/>
<rect x="455.8" y="55.3" width="3.2" height="3.2" fill="#ff0000"/>
<rect x="460.8" y="56.4" width="3.2" height="3.2" fill="#ff0000"/>
<rect x="465.8" y="53.1" width="3.2" height="3.2" fill="#ff0000"/>
<rect x="470.8" y="55.3" width="3.2" height="3.2" fill="#ff0000"/>
<rect x="475.8" y="53.7" width="3.2" height="3.2" fill="#ff0000"/>
<rect x="480.8" y="53.1" width="3.2" height="3.2" fill="#ff0000"/>
<rect x="485.8" y="52.0" width="3.2" height="3.2" fill="#ff0000"/>
<rect x="490.8" y="54.8" width="3.2" height="3.2" fill="#ff0000"/>
<rect x="495.8" y="52.6" width="3.2" height="3.2" fill="#ff0000"/>
<rect x="500.8" y="53.1" width="3.2" height="3.2" fill="#ff0000"/>
<rect x="505.8" y="53.1" width="3.2" height="3.2" fill="#ff0000"/>
<rect x="510.8" y="52.6" width="3.2" height="3.2" fill="#ff0000"/>
<rect x="515.8" y="55.9" width="3.2" height="3.2" fill="#ff0000"/>
<rect x="520.8" y="53.7" width="3.2" height="3.2" fill="#ff0000"/>
<rect x="525.8" y="55.3" width="3.2" height="3.2" fill="#ff0000"/>
<rect x="530.8" y="54.8" width="3.2" height="3.2" fill="#ff0000"/>
<rect x="535.8" y="54.5" width="3.2" height="3.2" fill="#ff0000"/>
<rect x="540.8" y="55.3" width="3.2" height="3.2" fill="#ff0000"/>
<line x1="432.4" y1="51.7" x2="432.4" y2="56.7" stroke="#0000ff" stroke-width="0.9"/>
<line x1="430.79999999999995" y1="51.7" x2="434.0" y2="51.7" stroke="#0000ff" stroke-width="0.9"/>
<line x1="430.79999999999995" y1="56.7" x2="434.0" y2="56.7" stroke="#0000ff" stroke-width="0.9"/>
<line x1="437.4" y1="53.6" x2="437.4" y2="58.6" stroke="#0000ff" stroke-width="0.9"/>
<line x1="435.79999999999995" y1="53.6" x2="439.0" y2="53.6" stroke="#0000ff" stroke-width="0.9"/>
<line x1="435.79999999999995" y1="58.6" x2="439.0" y2="58.6" stroke="#0000ff" stroke-width="0.9"/>
<line x1="442.4" y1="56.0" x2="442.4" y2="61.0" stroke="#0000ff" stroke-width="0.9"/>
<line x1="440.79999999999995" y1="56.0" x2="444.0" y2="56.0" stroke="#0000ff" stroke-width="0.9"/>
<line x1="440.79999999999995" y1="61.0" x2="444.0" y2="61.0" stroke="#0000ff" stroke-width="0.9"/>
<line x1="447.4" y1="58.2" x2="447.4" y2="63.2" stroke="#0000ff" stroke-width="0.9"/>
<line x1="445.79999999999995" y1="58.2" x2="449.0" y2="58.2" stroke="#0000ff" stroke-width="0.9"/>
<line x1="445.79999999999995" y1="63.2" x2="449.0" y2="63.2" stroke="#0000ff" stroke-width="0.9"/>
<line x1="452.4" y1="57.1" x2="452.4" y2="62.1" stroke="#0000ff" stroke-width="0.9"/>
<line x1="450.79999999999995" y1="57.1" x2="454.0" y2="57.1" stroke="#0000ff" stroke-width="0.9"/>
<line x1="450.79999999999995" y1="62.1" x2="454.0" y2="62.1" stroke="#0000ff" stroke-width="0.9"/>
<line x1="457.4" y1="55.5" x2="457.4" y2="60.5" stroke="#0000ff" stroke-width="0.9"/>
<line x1="455.79999999999995" y1="55.5" x2="459.0" y2="55.5" stroke="#0000ff" stroke-width="0.9"/>
<line x1="455.79999999999995" y1="60.5" x2="459.0" y2="60.5" stroke="#0000ff" stroke-width="0.9"/>
<line x1="462.4" y1="57.1" x2="462.4" y2="62.1" stroke="#0000ff" stroke-width="0.9"/>
<line x1="460.79999999999995" y1="57.1" x2="464.0" y2="57.1" stroke="#0000ff" stroke-width="0.9"/>
<line x1="460.79999999999995" y1="62.1" x2="464.0" y2="62.1" stroke="#0000ff" stroke-width="0.9"/>
<line x1="467.4" y1="53.6" x2="467.4" y2="58.6" stroke="#0000ff" stroke-width="0.9"/>
<line x1="465.79999999999995" y1="53.6" x2="469.0" y2="53.6" stroke="#0000ff" stroke-width="0.9"/>
<line x1="465.79999999999995" y1="58.6" x2="469.0" y2="58.6" stroke="#0000ff" stroke-width="0.9"/>
<line x1="472.4" y1="54.4" x2="472.4" y2="59.4" stroke="#0000ff" stroke-width="0.9"/>
<line x1="470.79999999999995" y1="54.4" x2="474.0" y2="54.4" stroke="#0000ff" stroke-width="0.9"/>
<line x1="470.79999999999995" y1="59.4" x2="474.0" y2="59.4" stroke="#0000ff" stroke-width="0.9"/>
<line x1="477.4" y1="51.1" x2="477.4" y2="56.1" stroke="#0000ff" stroke-width="0.9"/>
<line x1="475.79999999999995" y1="51.1" x2="479.0" y2="51.1" stroke="#0000ff" stroke-width="0.9"/>
<line x1="475.79999999999995" y1="56.1" x2="479.0" y2="56.1" stroke="#0000ff" stroke-width="0.9"/>
<line x1="482.4" y1="53.9" x2="482.4" y2="58.9" stroke="#0000ff" stroke-width="0.9"/>
<line x1="480.79999999999995" y1="53.9" x2="484.0" y2="53.9" stroke="#0000ff" stroke-width="0.9"/>
<line x1="480.79999999999995" y1="58.9" x2="484.0" y2="58.9" stroke="#0000ff" stroke-width="0.9"/>
<line x1="487.4" y1="55.5" x2="487.4" y2="60.5" stroke="#0000ff" stroke-width="0.9"/>
<line x1="485.79999999999995" y1="55.5" x2="489.0" y2="55.5" stroke="#0000ff" stroke-width="0.9"/>
<line x1="485.79999999999995" y1="60.5" x2="489.0" y2="60.5" stroke="#0000ff" stroke-width="0.9"/>
<line x1="492.4" y1="60.4" x2="492.4" y2="65.4" stroke="#0000ff" stroke-width="0.9"/>
<line x1="490.79999999999995" y1="60.4" x2="494.0" y2="60.4" stroke="#0000ff" stroke-width="0.9"/>
<line x1="490.79999999999995" y1="65.4" x2="494.0" y2="65.4" stroke="#0000ff" stroke-width="0.9"/>
<line x1="497.4" y1="53.9" x2="497.4" y2="58.9" stroke="#0000ff" stroke-width="0.9"/>
<line x1="495.79999999999995" y1="53.9" x2="499.0" y2="53.9" stroke="#0000ff" stroke-width="0.9"/>
<line x1="495.79999999999995" y1="58.9" x2="499.0" y2="58.9" stroke="#0000ff" stroke-width="0.9"/>
<line x1="502.4" y1="52.8" x2="502.4" y2="57.8" stroke="#0000ff" stroke-width="0.9"/>
<line x1="500.79999999999995" y1="52.8" x2="504.0" y2="52.8" stroke="#0000ff" stroke-width="0.9"/>
<line x1="500.79999999999995" y1="57.8" x2="504.0" y2="57.8" stroke="#0000ff" stroke-width="0.9"/>
<line x1="507.4" y1="53.3" x2="507.4" y2="58.3" stroke="#0000ff" stroke-width="0.9"/>
<line x1="505.79999999999995" y1="53.3" x2="509.0" y2="53.3" stroke="#0000ff" stroke-width="0.9"/>
<line x1="505.79999999999995" y1="58.3" x2="509.0" y2="58.3" stroke="#0000ff" stroke-width="0.9"/>
<line x1="512.4" y1="53.9" x2="512.4" y2="58.9" stroke="#0000ff" stroke-width="0.9"/>
<line x1="510.79999999999995" y1="53.9" x2="514.0" y2="53.9" stroke="#0000ff" stroke-width="0.9"/>
<line x1="510.79999999999995" y1="58.9" x2="514.0" y2="58.9" stroke="#0000ff" stroke-width="0.9"/>
<line x1="517.4" y1="49.0" x2="517.4" y2="54.0" stroke="#0000ff" stroke-width="0.9"/>
<line x1="515.8" y1="49.0" x2="519.0" y2="49.0" stroke="#0000ff" stroke-width="0.9"/>
<line x1="515.8" y1="54.0" x2="519.0" y2="54.0" stroke="#0000ff" stroke-width="0.9"/>
<line x1="522.4" y1="50.6" x2="522.4" y2="55.6" stroke="#0000ff" stroke-width="0.9"/>
<line x1="520.8" y1="50.6" x2="524.0" y2="50.6" stroke="#0000ff" stroke-width="0.9"/>
<line x1="520.8" y1="55.6" x2="524.0" y2="55.6" stroke="#0000ff" stroke-width="0.9"/>
<line x1="527.4" y1="53.6" x2="527.4" y2="58.6" stroke="#0000ff" stroke-width="0.9"/>
<line x1="525.8" y1="53.6" x2="529.0" y2="53.6" stroke="#0000ff" stroke-width="0.9"/>
<line x1="525.8" y1="58.6" x2="529.0" y2="58.6" stroke="#0000ff" stroke-width="0.9"/>
<line x1="532.4" y1="52.2" x2="532.4" y2="57.2" stroke="#0000ff" stroke-width="0.9"/>
<line x1="530.8" y1="52.2" x2="534.0" y2="52.2" stroke="#0000ff" stroke-width="0.9"/>
<line x1="530.8" y1="57.2" x2="534.0" y2="57.2" stroke="#0000ff" stroke-width="0.9"/>
<line x1="537.4" y1="51.7" x2="537.4" y2="56.7" stroke="#0000ff" stroke-width="0.9"/>
<line x1="535.8" y1="51.7" x2="539.0" y2="51.7" stroke="#0000ff" stroke-width="0.9"/>
<line x1="535.8" y1="56.7" x2="539.0" y2="56.7" stroke="#0000ff" stroke-width="0.9"/>
<line x1="542.4" y1="50.0" x2="542.4" y2="55.0" stroke="#0000ff" stroke-width="0.9"/>
<line x1="540.8" y1="50.0" x2="544.0" y2="50.0" stroke="#0000ff" stroke-width="0.9"/>
<line x1="540.8" y1="55.0" x2="544.0" y2="55.0" stroke="#0000ff" stroke-width="0.9"/>
<polyline points="432.4,54.2 437.4,56.1 442.4,58.5 447.4,60.7 452.4,59.6 457.4,58.0 462.4,59.6 467.4,56.1 472.4,56.9 477.4,53.6 482.4,56.4 487.4,58.0 492.4,62.9 497.4,56.4 502.4,55.3 507.4,55.8 512.4,56.4 517.4,51.5 522.4,53.1 527.4,56.1 532.4,54.7 537.4,54.2 542.4,52.5" fill="none" stroke="#0000ff" stroke-width="1.2"/>
<circle cx="432.4" cy="54.2" r="1.6" fill="#0000ff"/>
<circle cx="437.4" cy="56.1" r="1.6" fill="#0000ff"/>
<circle cx="442.4" cy="58.5" r="1.6" fill="#0000ff"/>
<circle cx="447.4" cy="60.7" r="1.6" fill="#0000ff"/>
<circle cx="452.4" cy="59.6" r="1.6" fill="#0000ff"/>
<circle cx="457.4" cy="58.0" r="1.6" fill="#0000ff"/>
<circle cx="462.4" cy="59.6" r="1.6" fill="#0000ff"/>
<circle cx="467.4" cy="56.1" r="1.6" fill="#0000ff"/>
<circle cx="472.4" cy="56.9" r="1.6" fill="#0000ff"/>
<circle cx="477.4" cy="53.6" r="1.6" fill="#0000ff"/>
<circle cx="482.4" cy="56.4" r="1.6" fill="#0000ff"/>
<circle cx="487.4" cy="58.0" r="1.6" fill="#0000ff"/>
<circle cx="492.4" cy="62.9" r="1.6" fill="#0000ff"/>
<circle cx="497.4" cy="56.4" r="1.6" fill="#0000ff"/>
<circle cx="502.4" cy="55.3" r="1.6" fill="#0000ff"/>
<circle cx="507.4" cy="55.8" r="1.6" fill="#0000ff"/>
<circle cx="512.4" cy="56.4" r="1.6" fill="#0000ff"/>
<circle cx="517.4" cy="51.5" r="1.6" fill="#0000ff"/>
<circle cx="522.4" cy="53.1" r="1.6" fill="#0000ff"/>
<circle cx="527.4" cy="56.1" r="1.6" fill="#0000ff"/>
<circle cx="532.4" cy="54.7" r="1.6" fill="#0000ff"/>
<circle cx="537.4" cy="54.2" r="1.6" fill="#0000ff"/>
<circle cx="542.4" cy="52.5" r="1.6" fill="#0000ff"/>
<line x1="504.5" y1="89.7" x2="512" y2="89.7" stroke="#0000ff" stroke-width="1.1"/>
<circle cx="508.3" cy="89.7" r="1.6" fill="#0000ff"/>
<text x="516.6" y="92.4" font-size="7.6" text-anchor="start" font-weight="normal" fill="#1a1a1a" font-family="Liberation Sans" stroke="#1a1a1a" stroke-width="0.08" textLength="14.2" lengthAdjust="spacingAndGlyphs" >ML29</text>
<line x1="504.5" y1="101.3" x2="512" y2="101.3" stroke="#ff0000" stroke-width="1.1"/>
<rect x="506.7" y="99.7" width="3.2" height="3.2" fill="#ff0000"/>
<text x="516.6" y="104.0" font-size="7.6" text-anchor="start" font-weight="normal" fill="#1a1a1a" font-family="Liberation Sans" stroke="#1a1a1a" stroke-width="0.08" textLength="25.5" lengthAdjust="spacingAndGlyphs" >ML29P50</text>
<line x1="504.5" y1="113" x2="512" y2="113" stroke="#00c000" stroke-width="1.1"/>
<polygon points="506.7,114.3 509.9,114.3 508.3,111.2" fill="#00c000"/>
<text x="516.6" y="115.7" font-size="7.6" text-anchor="start" font-weight="normal" fill="#1a1a1a" font-family="Liberation Sans" stroke="#1a1a1a" stroke-width="0.08" textLength="17.2" lengthAdjust="spacingAndGlyphs" >MOPV</text>
<line x1="24.3" y1="209.0" x2="24.3" y2="293.3" stroke="#222222" stroke-width="1.15"/>
<line x1="23.8" y1="292.8" x2="150.3" y2="292.8" stroke="#222222" stroke-width="1.15"/>
<line x1="21.8" y1="292.6" x2="24.3" y2="292.6" stroke="#222222" stroke-width="1.15"/>
<text x="20.7" y="294.70000000000005" font-size="7.1" text-anchor="end" font-weight="bold" fill="#1a1a1a" stroke="#1a1a1a" stroke-width="0.05" font-family="Liberation Sans">2<tspan font-size="4.2" dx="0.4" dy="-2.1">0</tspan></text>
<line x1="21.8" y1="280.76000000000005" x2="24.3" y2="280.76000000000005" stroke="#222222" stroke-width="1.15"/>
<text x="20.7" y="282.86000000000007" font-size="7.1" text-anchor="end" font-weight="bold" fill="#1a1a1a" stroke="#1a1a1a" stroke-width="0.05" font-family="Liberation Sans">2<tspan font-size="4.2" dx="0.4" dy="-2.1">1</tspan></text>
<line x1="21.8" y1="268.92" x2="24.3" y2="268.92" stroke="#222222" stroke-width="1.15"/>
<text x="20.7" y="271.02000000000004" font-size="7.1" text-anchor="end" font-weight="bold" fill="#1a1a1a" stroke="#1a1a1a" stroke-width="0.05" font-family="Liberation Sans">2<tspan font-size="4.2" dx="0.4" dy="-2.1">2</tspan></text>
<line x1="21.8" y1="257.08000000000004" x2="24.3" y2="257.08000000000004" stroke="#222222" stroke-width="1.15"/>
<text x="20.7" y="259.18000000000006" font-size="7.1" text-anchor="end" font-weight="bold" fill="#1a1a1a" stroke="#1a1a1a" stroke-width="0.05" font-family="Liberation Sans">2<tspan font-size="4.2" dx="0.4" dy="-2.1">3</tspan></text>
<line x1="21.8" y1="245.24" x2="24.3" y2="245.24" stroke="#222222" stroke-width="1.15"/>
<text x="20.7" y="247.34" font-size="7.1" text-anchor="end" font-weight="bold" fill="#1a1a1a" stroke="#1a1a1a" stroke-width="0.05" font-family="Liberation Sans">2<tspan font-size="4.2" dx="0.4" dy="-2.1">4</tspan></text>
<line x1="21.8" y1="233.40000000000003" x2="24.3" y2="233.40000000000003" stroke="#222222" stroke-width="1.15"/>
<text x="20.7" y="235.50000000000003" font-size="7.1" text-anchor="end" font-weight="bold" fill="#1a1a1a" stroke="#1a1a1a" stroke-width="0.05" font-family="Liberation Sans">2<tspan font-size="4.2" dx="0.4" dy="-2.1">5</tspan></text>
<line x1="21.8" y1="221.56000000000003" x2="24.3" y2="221.56000000000003" stroke="#222222" stroke-width="1.15"/>
<text x="20.7" y="223.66000000000003" font-size="7.1" text-anchor="end" font-weight="bold" fill="#1a1a1a" stroke="#1a1a1a" stroke-width="0.05" font-family="Liberation Sans">2<tspan font-size="4.2" dx="0.4" dy="-2.1">6</tspan></text>
<line x1="21.8" y1="209.72000000000003" x2="24.3" y2="209.72000000000003" stroke="#222222" stroke-width="1.15"/>
<text x="20.7" y="211.82000000000002" font-size="7.1" text-anchor="end" font-weight="bold" fill="#1a1a1a" stroke="#1a1a1a" stroke-width="0.05" font-family="Liberation Sans">2<tspan font-size="4.2" dx="0.4" dy="-2.1">7</tspan></text>
<rect x="27.5" y="255.3" width="9.399999999999999" height="37.5" fill="#0000ff"/>
<line x1="32.2" y1="251.5" x2="32.2" y2="255.3" stroke="#0000ff" stroke-width="1.35"/>
<line x1="29.900000000000002" y1="251.5" x2="34.5" y2="251.5" stroke="#0000ff" stroke-width="1.2"/>
<rect x="39.5" y="271.3" width="9.399999999999999" height="21.5" fill="#ff0000"/>
<line x1="44.2" y1="263.4" x2="44.2" y2="271.3" stroke="#ff0000" stroke-width="1.35"/>
<line x1="41.900000000000006" y1="263.4" x2="46.5" y2="263.4" stroke="#ff0000" stroke-width="1.2"/>
<rect x="51.0" y="274.4" width="9.399999999999999" height="18.400000000000034" fill="#00c000"/>
<line x1="55.7" y1="272.6" x2="55.7" y2="274.4" stroke="#00c000" stroke-width="1.35"/>
<line x1="53.400000000000006" y1="272.6" x2="58.0" y2="272.6" stroke="#00c000" stroke-width="1.2"/>
<rect x="70.6" y="267.4" width="9.100000000000009" height="25.400000000000034" fill="#0000ff"/>
<line x1="75.15" y1="265.2" x2="75.15" y2="267.4" stroke="#0000ff" stroke-width="1.35"/>
<line x1="72.85000000000001" y1="265.2" x2="77.45" y2="265.2" stroke="#0000ff" stroke-width="1.2"/>
<rect x="94.1" y="223.9" width="9.100000000000009" height="68.9" fill="#00c000"/>
<line x1="98.65" y1="216.3" x2="98.65" y2="223.9" stroke="#00c000" stroke-width="1.35"/>
<line x1="96.35000000000001" y1="216.3" x2="100.95" y2="216.3" stroke="#00c000" stroke-width="1.2"/>
<rect x="139.8" y="292.0" width="4.099999999999994" height="0.8000000000000114" fill="#00c000"/>
<line x1="44.2" y1="292.8" x2="44.2" y2="295.3" stroke="#222222" stroke-width="1.15"/>
<text x="46.1" y="301.40000000000003" font-size="6.0" text-anchor="end" font-weight="bold" fill="#1a1a1a" font-family="Liberation Sans" stroke="#1a1a1a" stroke-width="0.22" transform="rotate(-45 46.1 301.40000000000003)" >Day 3</text>
<line x1="86.7" y1="292.8" x2="86.7" y2="295.3" stroke="#222222" stroke-width="1.15"/>
<text x="88.60000000000001" y="301.40000000000003" font-size="6.0" text-anchor="end" font-weight="bold" fill="#1a1a1a" font-family="Liberation Sans" stroke="#1a1a1a" stroke-width="0.22" transform="rotate(-45 88.60000000000001 301.40000000000003)" >Day 7</text>
<line x1="130.2" y1="292.8" x2="130.2" y2="295.3" stroke="#222222" stroke-width="1.15"/>
<text x="132.1" y="301.40000000000003" font-size="6.0" text-anchor="end" font-weight="bold" fill="#1a1a1a" font-family="Liberation Sans" stroke="#1a1a1a" stroke-width="0.22" transform="rotate(-45 132.1 301.40000000000003)" >Day 21</text>
<text x="10.8" y="250.8" font-size="7.2" text-anchor="middle" font-weight="bold" fill="#1a1a1a" font-family="Liberation Sans" stroke="#1a1a1a" stroke-width="0.15" textLength="59.5" lengthAdjust="spacingAndGlyphs" transform="rotate(-90 10.8 250.8)" >relative viral&#160; RNA</text>
<rect x="114.7" y="212.7" width="10.200000000000003" height="5.300000000000011" fill="#0000ff"/>
<text x="129.2" y="218.15" font-size="7.9" text-anchor="start" font-weight="normal" fill="#1a1a1a" font-family="Liberation Sans" stroke="#1a1a1a" stroke-width="0.08" textLength="16.5" lengthAdjust="spacingAndGlyphs" >ML29</text>
<rect x="114.7" y="223.6" width="10.200000000000003" height="5.599999999999994" fill="#ff0000"/>
<text x="129.2" y="229.2" font-size="7.9" text-anchor="start" font-weight="normal" fill="#1a1a1a" font-family="Liberation Sans" stroke="#1a1a1a" stroke-width="0.08" textLength="29" lengthAdjust="spacingAndGlyphs" >ML29P50</text>
<rect x="114.7" y="234.8" width="10.200000000000003" height="5.899999999999977" fill="#00c000"/>
<text x="129.2" y="240.55" font-size="7.9" text-anchor="start" font-weight="normal" fill="#1a1a1a" font-family="Liberation Sans" stroke="#1a1a1a" stroke-width="0.08" textLength="19" lengthAdjust="spacingAndGlyphs" >MOPV</text>
<line x1="203.3" y1="203.0" x2="203.3" y2="294.8" stroke="#222222" stroke-width="1.15"/>
<line x1="202.8" y1="294.3" x2="340.4" y2="294.3" stroke="#222222" stroke-width="1.15"/>
<line x1="200.8" y1="294.5" x2="203.3" y2="294.5" stroke="#222222" stroke-width="1.15"/>
<text x="199.70000000000002" y="296.6" font-size="7.1" text-anchor="end" font-weight="bold" fill="#1a1a1a" stroke="#1a1a1a" stroke-width="0.05" font-family="Liberation Sans">2<tspan font-size="4.2" dx="0.4" dy="-2.1">0</tspan></text>
<line x1="200.8" y1="276.3" x2="203.3" y2="276.3" stroke="#222222" stroke-width="1.15"/>
<text x="199.70000000000002" y="278.40000000000003" font-size="7.1" text-anchor="end" font-weight="bold" fill="#1a1a1a" stroke="#1a1a1a" stroke-width="0.05" font-family="Liberation Sans">2<tspan font-size="4.2" dx="0.4" dy="-2.1">1</tspan></text>
<line x1="200.8" y1="258.1" x2="203.3" y2="258.1" stroke="#222222" stroke-width="1.15"/>
<text x="199.70000000000002" y="260.20000000000005" font-size="7.1" text-anchor="end" font-weight="bold" fill="#1a1a1a" stroke="#1a1a1a" stroke-width="0.05" font-family="Liberation Sans">2<tspan font-size="4.2" dx="0.4" dy="-2.1">2</tspan></text>
<line x1="200.8" y1="239.9" x2="203.3" y2="239.9" stroke="#222222" stroke-width="1.15"/>
<text x="199.70000000000002" y="242.0" font-size="7.1" text-anchor="end" font-weight="bold" fill="#1a1a1a" stroke="#1a1a1a" stroke-width="0.05" font-family="Liberation Sans">2<tspan font-size="4.2" dx="0.4" dy="-2.1">3</tspan></text>
<line x1="200.8" y1="221.7" x2="203.3" y2="221.7" stroke="#222222" stroke-width="1.15"/>
<text x="199.70000000000002" y="223.79999999999998" font-size="7.1" text-anchor="end" font-weight="bold" fill="#1a1a1a" stroke="#1a1a1a" stroke-width="0.05" font-family="Liberation Sans">2<tspan font-size="4.2" dx="0.4" dy="-2.1">4</tspan></text>
<line x1="200.8" y1="203.5" x2="203.3" y2="203.5" stroke="#222222" stroke-width="1.15"/>
<text x="199.70000000000002" y="205.6" font-size="7.1" text-anchor="end" font-weight="bold" fill="#1a1a1a" stroke="#1a1a1a" stroke-width="0.05" font-family="Liberation Sans">2<tspan font-size="4.2" dx="0.4" dy="-2.1">5</tspan></text>
<rect x="207.0" y="240.8" width="10.0" height="53.5" fill="#0000ff"/>
<line x1="212.0" y1="234.0" x2="212.0" y2="240.8" stroke="#0000ff" stroke-width="1.35"/>
<line x1="209.7" y1="234.0" x2="214.3" y2="234.0" stroke="#0000ff" stroke-width="1.2"/>
<rect x="233.0" y="229.1" width="10.0" height="65.20000000000002" fill="#00c000"/>
<line x1="238.0" y1="221.4" x2="238.0" y2="229.1" stroke="#00c000" stroke-width="1.35"/>
<line x1="235.7" y1="221.4" x2="240.3" y2="221.4" stroke="#00c000" stroke-width="1.2"/>
<rect x="253.4" y="239.1" width="10.299999999999983" height="55.20000000000002" fill="#0000ff"/>
<line x1="258.55" y1="223.5" x2="258.55" y2="239.1" stroke="#0000ff" stroke-width="1.35"/>
<line x1="256.25" y1="223.5" x2="260.85" y2="223.5" stroke="#0000ff" stroke-width="1.2"/>
<rect x="279.4" y="241.3" width="10.0" height="53.0" fill="#00c000"/>
<line x1="284.4" y1="229.8" x2="284.4" y2="241.3" stroke="#00c000" stroke-width="1.35"/>
<line x1="282.09999999999997" y1="229.8" x2="286.7" y2="229.8" stroke="#00c000" stroke-width="1.2"/>
<line x1="224.5" y1="294.3" x2="224.5" y2="296.8" stroke="#222222" stroke-width="1.15"/>
<text x="226.9" y="302.7" font-size="6.8" text-anchor="end" font-weight="bold" fill="#1a1a1a" font-family="Liberation Sans" stroke="#1a1a1a" stroke-width="0.3" transform="rotate(-45 226.9 302.7)" >Day 3</text>
<line x1="271.0" y1="294.3" x2="271.0" y2="296.8" stroke="#222222" stroke-width="1.15"/>
<text x="273.4" y="302.7" font-size="6.8" text-anchor="end" font-weight="bold" fill="#1a1a1a" font-family="Liberation Sans" stroke="#1a1a1a" stroke-width="0.3" transform="rotate(-45 273.4 302.7)" >Day 7</text>
<line x1="317.8" y1="294.3" x2="317.8" y2="296.8" stroke="#222222" stroke-width="1.15"/>
<text x="320.2" y="302.7" font-size="6.8" text-anchor="end" font-weight="bold" fill="#1a1a1a" font-family="Liberation Sans" stroke="#1a1a1a" stroke-width="0.3" transform="rotate(-45 320.2 302.7)" >Day 21</text>
<text x="190.2" y="244.2" font-size="7.2" text-anchor="middle" font-weight="bold" fill="#1a1a1a" font-family="Liberation Sans" stroke="#1a1a1a" stroke-width="0.15" textLength="56" lengthAdjust="spacingAndGlyphs" transform="rotate(-90 190.2 244.2)" >relative viral&#160; RNA</text>
<rect x="301.2" y="206.8" width="11.400000000000034" height="5.899999999999977" fill="#0000ff"/>
<text x="317.4" y="212.55" font-size="7.9" text-anchor="start" font-weight="normal" fill="#1a1a1a" font-family="Liberation Sans" stroke="#1a1a1a" stroke-width="0.08" textLength="17.6" lengthAdjust="spacingAndGlyphs" >ML29</text>
<rect x="301.2" y="219.3" width="11.400000000000034" height="5.5" fill="#ff0000"/>
<text x="317.4" y="224.85000000000002" font-size="7.9" text-anchor="start" font-weight="normal" fill="#1a1a1a" font-family="Liberation Sans" stroke="#1a1a1a" stroke-width="0.08" textLength="31.6" lengthAdjust="spacingAndGlyphs" >ML29P50</text>
<rect x="301.2" y="231.3" width="11.400000000000034" height="6.0" fill="#00c000"/>
<text x="317.4" y="237.10000000000002" font-size="7.9" text-anchor="start" font-weight="normal" fill="#1a1a1a" font-family="Liberation Sans" stroke="#1a1a1a" stroke-width="0.08" textLength="20.5" lengthAdjust="spacingAndGlyphs" >MOPV</text>
<line x1="394.3" y1="201.0" x2="394.3" y2="292.4" stroke="#222222" stroke-width="1.15"/>
<line x1="393.8" y1="291.9" x2="532.0" y2="291.9" stroke="#222222" stroke-width="1.15"/>
<line x1="391.8" y1="291.4" x2="394.3" y2="291.4" stroke="#222222" stroke-width="1.15"/>
<text x="390.7" y="293.5" font-size="7.1" text-anchor="end" font-weight="bold" fill="#1a1a1a" stroke="#1a1a1a" stroke-width="0.05" font-family="Liberation Sans">2<tspan font-size="4.2" dx="0.4" dy="-2.1">0</tspan></text>
<line x1="391.8" y1="261.29999999999995" x2="394.3" y2="261.29999999999995" stroke="#222222" stroke-width="1.15"/>
<text x="390.7" y="263.4" font-size="7.1" text-anchor="end" font-weight="bold" fill="#1a1a1a" stroke="#1a1a1a" stroke-width="0.05" font-family="Liberation Sans">2<tspan font-size="4.2" dx="0.4" dy="-2.1">5</tspan></text>
<line x1="391.8" y1="231.2" x2="394.3" y2="231.2" stroke="#222222" stroke-width="1.15"/>
<text x="390.7" y="233.29999999999998" font-size="7.1" text-anchor="end" font-weight="bold" fill="#1a1a1a" stroke="#1a1a1a" stroke-width="0.05" font-family="Liberation Sans">2<tspan font-size="4.2" dx="0.4" dy="-2.1">10</tspan></text>
<line x1="391.8" y1="201.09999999999997" x2="394.3" y2="201.09999999999997" stroke="#222222" stroke-width="1.15"/>
<text x="390.7" y="203.19999999999996" font-size="7.1" text-anchor="end" font-weight="bold" fill="#1a1a1a" stroke="#1a1a1a" stroke-width="0.05" font-family="Liberation Sans">2<tspan font-size="4.2" dx="0.4" dy="-2.1">15</tspan></text>
<rect x="398.1" y="239.9" width="9.699999999999989" height="51.99999999999997" fill="#0000ff"/>
<line x1="402.95000000000005" y1="236.2" x2="402.95000000000005" y2="239.9" stroke="#0000ff" stroke-width="1.35"/>
<line x1="400.65000000000003" y1="236.2" x2="405.25000000000006" y2="236.2" stroke="#0000ff" stroke-width="1.2"/>
<rect x="411.1" y="283.4" width="9.899999999999977" height="8.5" fill="#ff0000"/>
<line x1="416.05" y1="279.2" x2="416.05" y2="283.4" stroke="#ff0000" stroke-width="1.35"/>
<line x1="413.75" y1="279.2" x2="418.35" y2="279.2" stroke="#ff0000" stroke-width="1.2"/>
<rect x="424.2" y="270.8" width="9.900000000000034" height="21.099999999999966" fill="#00c000"/>
<line x1="429.15" y1="265.4" x2="429.15" y2="270.8" stroke="#00c000" stroke-width="1.35"/>
<line x1="426.84999999999997" y1="265.4" x2="431.45" y2="265.4" stroke="#00c000" stroke-width="1.2"/>
<rect x="445.3" y="254.0" width="9.899999999999977" height="37.89999999999998" fill="#0000ff"/>
<line x1="450.25" y1="251.0" x2="450.25" y2="254.0" stroke="#0000ff" stroke-width="1.35"/>
<line x1="447.95" y1="251.0" x2="452.55" y2="251.0" stroke="#0000ff" stroke-width="1.2"/>
<rect x="458.4" y="241.6" width="9.900000000000034" height="50.29999999999998" fill="#ff0000"/>
<line x1="463.35" y1="236.6" x2="463.35" y2="241.6" stroke="#ff0000" stroke-width="1.35"/>
<line x1="461.05" y1="236.6" x2="465.65000000000003" y2="236.6" stroke="#ff0000" stroke-width="1.2"/>
<rect x="471.1" y="225.4" width="9.799999999999955" height="66.49999999999997" fill="#00c000"/>
<line x1="476.0" y1="221.7" x2="476.0" y2="225.4" stroke="#00c000" stroke-width="1.35"/>
<line x1="473.7" y1="221.7" x2="478.3" y2="221.7" stroke="#00c000" stroke-width="1.2"/>
<rect x="492.4" y="284.0" width="9.700000000000045" height="7.899999999999977" fill="#0000ff"/>
<line x1="497.25" y1="282.0" x2="497.25" y2="284.0" stroke="#0000ff" stroke-width="1.35"/>
<line x1="494.95" y1="282.0" x2="499.55" y2="282.0" stroke="#0000ff" stroke-width="1.2"/>
<rect x="505.5" y="287.6" width="9.700000000000045" height="4.2999999999999545" fill="#ff0000"/>
<line x1="510.35" y1="285.4" x2="510.35" y2="287.6" stroke="#ff0000" stroke-width="1.35"/>
<line x1="508.05" y1="285.4" x2="512.65" y2="285.4" stroke="#ff0000" stroke-width="1.2"/>
<rect x="518.9" y="291.0" width="9.700000000000045" height="0.8999999999999773" fill="#00c000"/>
<line x1="523.75" y1="288.0" x2="523.75" y2="291.0" stroke="#00c000" stroke-width="1.35"/>
<line x1="521.45" y1="288.0" x2="526.05" y2="288.0" stroke="#00c000" stroke-width="1.2"/>
<line x1="415.8" y1="291.9" x2="415.8" y2="294.4" stroke="#222222" stroke-width="1.15"/>
<text x="418.2" y="300.29999999999995" font-size="6.8" text-anchor="end" font-weight="bold" fill="#1a1a1a" font-family="Liberation Sans" stroke="#1a1a1a" stroke-width="0.3" transform="rotate(-45 418.2 300.29999999999995)" >Day 3</text>
<line x1="462.9" y1="291.9" x2="462.9" y2="294.4" stroke="#222222" stroke-width="1.15"/>
<text x="465.29999999999995" y="300.29999999999995" font-size="6.8" text-anchor="end" font-weight="bold" fill="#1a1a1a" font-family="Liberation Sans" stroke="#1a1a1a" stroke-width="0.3" transform="rotate(-45 465.29999999999995 300.29999999999995)" >Day 7</text>
<line x1="510.0" y1="291.9" x2="510.0" y2="294.4" stroke="#222222" stroke-width="1.15"/>
<text x="512.4" y="300.29999999999995" font-size="6.8" text-anchor="end" font-weight="bold" fill="#1a1a1a" font-family="Liberation Sans" stroke="#1a1a1a" stroke-width="0.3" transform="rotate(-45 512.4 300.29999999999995)" >Day 21</text>
<text x="378.9" y="242.2" font-size="7.2" text-anchor="middle" font-weight="bold" fill="#1a1a1a" font-family="Liberation Sans" stroke="#1a1a1a" stroke-width="0.15" textLength="55.5" lengthAdjust="spacingAndGlyphs" transform="rotate(-90 378.9 242.2)" >relative viral&#160; RNA</text>
<rect x="495.1" y="204.3" width="11.199999999999989" height="5.899999999999977" fill="#0000ff"/>
<text x="511.0" y="210.05" font-size="7.9" text-anchor="start" font-weight="normal" fill="#1a1a1a" font-family="Liberation Sans" stroke="#1a1a1a" stroke-width="0.08" textLength="17.9" lengthAdjust="spacingAndGlyphs" >ML29</text>
<rect x="495.1" y="216.8" width="11.199999999999989" height="5.899999999999977" fill="#ff0000"/>
<text x="511.0" y="222.55" font-size="7.9" text-anchor="start" font-weight="normal" fill="#1a1a1a" font-family="Liberation Sans" stroke="#1a1a1a" stroke-width="0.08" textLength="31.9" lengthAdjust="spacingAndGlyphs" >ML29P50</text>
<rect x="495.1" y="228.9" width="11.199999999999989" height="6.199999999999989" fill="#00c000"/>
<text x="511.0" y="234.8" font-size="7.9" text-anchor="start" font-weight="normal" fill="#1a1a1a" font-family="Liberation Sans" stroke="#1a1a1a" stroke-width="0.08" textLength="19.5" lengthAdjust="spacingAndGlyphs" >MOPV</text>
</svg></body></html>
